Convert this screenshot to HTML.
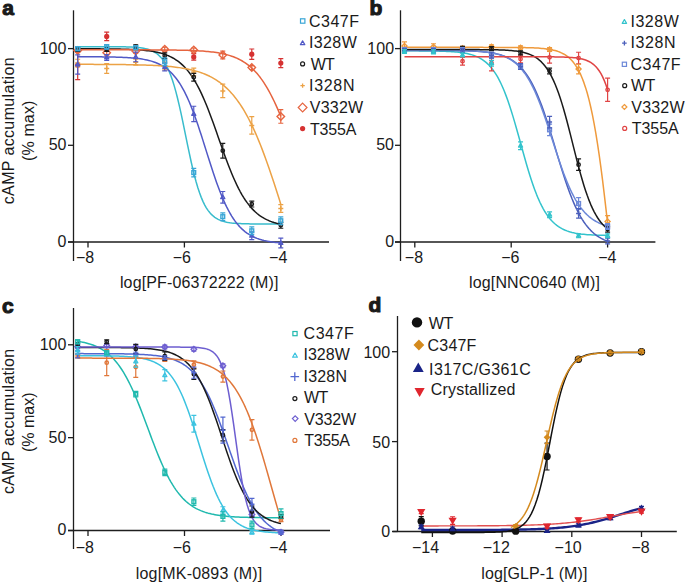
<!DOCTYPE html><html><head><meta charset="utf-8"><style>html,body{margin:0;padding:0;background:#fff;overflow:hidden}svg{display:block}</style></head><body><svg width="685" height="583" viewBox="0 0 685 583" style="font-family:'Liberation Sans',sans-serif">
<rect width="685" height="583" fill="white"/>
<path d="M73.5,10.3V261" stroke="#1e1e1e" stroke-width="1.3" fill="none"/>
<path d="M68,242H329" stroke="#1e1e1e" stroke-width="1.3" fill="none"/>
<path d="M68.0,48.60H73.5" stroke="#1e1e1e" stroke-width="1.3"/>
<text x="39.73" y="53.61" font-size="16" fill="#1a1a1a">100</text>
<path d="M68.0,145.30H73.5" stroke="#1e1e1e" stroke-width="1.3"/>
<text x="48.63" y="150.31" font-size="16" fill="#1a1a1a">50</text>
<path d="M68.0,242.00H73.5" stroke="#1e1e1e" stroke-width="1.3"/>
<text x="57.53" y="247.01" font-size="16" fill="#1a1a1a">0</text>
<path d="M88.00,242V247.5" stroke="#1e1e1e" stroke-width="1.3"/>
<text x="85.15" y="263" font-size="16" text-anchor="middle" font-weight="normal" fill="#1a1a1a" >−8</text>
<path d="M184.40,242V247.5" stroke="#1e1e1e" stroke-width="1.3"/>
<text x="181.75" y="263" font-size="16" text-anchor="middle" font-weight="normal" fill="#1a1a1a" >−6</text>
<path d="M280.80,242V247.5" stroke="#1e1e1e" stroke-width="1.3"/>
<text x="278.20" y="263" font-size="16" text-anchor="middle" font-weight="normal" fill="#1a1a1a" >−4</text>
<polyline points="77.69,46.64 79.38,46.64 81.07,46.64 82.76,46.64 84.46,46.64 86.15,46.64 87.84,46.64 89.53,46.64 91.23,46.64 92.92,46.64 94.61,46.64 96.30,46.64 98.00,46.65 99.69,46.65 101.38,46.65 103.07,46.65 104.77,46.66 106.46,46.66 108.15,46.67 109.85,46.68 111.54,46.68 113.23,46.69 114.92,46.71 116.62,46.72 118.31,46.74 120.00,46.76 121.69,46.78 123.39,46.81 125.08,46.85 126.77,46.90 128.46,46.95 130.16,47.02 131.85,47.09 133.54,47.19 135.23,47.30 136.93,47.44 138.62,47.60 140.31,47.80 142.00,48.04 143.70,48.33 145.39,48.67 147.08,49.09 148.78,49.58 150.47,50.18 152.16,50.89 153.85,51.75 155.55,52.76 157.24,53.98 158.93,55.42 160.62,57.12 162.32,59.13 164.01,61.49 165.70,64.25 167.39,67.46 169.09,71.16 170.78,75.40 172.47,80.20 174.16,85.61 175.86,91.61 177.55,98.19 179.24,105.30 180.94,112.88 182.63,120.83 184.32,129.03 186.01,137.33 187.71,145.60 189.40,153.69 191.09,161.48 192.78,168.84 194.48,175.71 196.17,182.01 197.86,187.73 199.55,192.84 201.25,197.37 202.94,201.34 204.63,204.80 206.32,207.79 208.02,210.35 209.71,212.53 211.40,214.39 213.10,215.96 214.79,217.29 216.48,218.40 218.17,219.34 219.87,220.12 221.56,220.77 223.25,221.32 224.94,221.78 226.64,222.15 228.33,222.47 230.02,222.73 231.71,222.95 233.41,223.13 235.10,223.28 236.79,223.41 238.48,223.51 240.18,223.60 241.87,223.67 243.56,223.73 245.25,223.78 246.95,223.82 248.64,223.85 250.33,223.88 252.03,223.90 253.72,223.92 255.41,223.94 257.10,223.95 258.80,223.96 260.49,223.97 262.18,223.98 263.87,223.99 265.57,223.99 267.26,224.00 268.95,224.00 270.64,224.00 272.34,224.01 274.03,224.01 275.72,224.01 277.41,224.01 279.11,224.01 280.80,224.01" fill="none" stroke="#38bccc" stroke-width="1.5" stroke-linejoin="round"/>
<polyline points="77.69,56.75 79.38,56.75 81.07,56.76 82.76,56.76 84.46,56.77 86.15,56.77 87.84,56.78 89.53,56.79 91.23,56.80 92.92,56.80 94.61,56.81 96.30,56.83 98.00,56.84 99.69,56.85 101.38,56.87 103.07,56.89 104.77,56.91 106.46,56.93 108.15,56.96 109.85,56.99 111.54,57.02 113.23,57.06 114.92,57.10 116.62,57.15 118.31,57.20 120.00,57.26 121.69,57.32 123.39,57.39 125.08,57.48 126.77,57.57 128.46,57.67 130.16,57.79 131.85,57.92 133.54,58.06 135.23,58.22 136.93,58.40 138.62,58.61 140.31,58.84 142.00,59.09 143.70,59.38 145.39,59.69 147.08,60.05 148.78,60.45 150.47,60.89 152.16,61.39 153.85,61.94 155.55,62.56 157.24,63.25 158.93,64.01 160.62,64.86 162.32,65.81 164.01,66.86 165.70,68.02 167.39,69.31 169.09,70.73 170.78,72.29 172.47,74.02 174.16,75.91 175.86,77.98 177.55,80.25 179.24,82.72 180.94,85.41 182.63,88.31 184.32,91.45 186.01,94.83 187.71,98.44 189.40,102.29 191.09,106.37 192.78,110.68 194.48,115.21 196.17,119.93 197.86,124.84 199.55,129.90 201.25,135.09 202.94,140.38 204.63,145.73 206.32,151.11 208.02,156.49 209.71,161.83 211.40,167.10 213.10,172.25 214.79,177.27 216.48,182.13 218.17,186.80 219.87,191.27 221.56,195.52 223.25,199.54 224.94,203.32 226.64,206.87 228.33,210.18 230.02,213.25 231.71,216.10 233.41,218.72 235.10,221.13 236.79,223.35 238.48,225.37 240.18,227.21 241.87,228.89 243.56,230.42 245.25,231.80 246.95,233.05 248.64,234.18 250.33,235.20 252.03,236.12 253.72,236.94 255.41,237.69 257.10,238.35 258.80,238.95 260.49,239.49 262.18,239.97 263.87,240.40 265.57,240.79 267.26,241.13 268.95,241.44 270.64,241.72 272.34,241.97 274.03,242.19 275.72,242.38 277.41,242.56 279.11,242.72 280.80,242.86" fill="none" stroke="#5159c6" stroke-width="1.5" stroke-linejoin="round"/>
<polyline points="77.69,48.80 79.38,48.80 81.07,48.81 82.76,48.81 84.46,48.81 86.15,48.82 87.84,48.82 89.53,48.83 91.23,48.83 92.92,48.84 94.61,48.84 96.30,48.85 98.00,48.86 99.69,48.87 101.38,48.88 103.07,48.89 104.77,48.90 106.46,48.92 108.15,48.93 109.85,48.95 111.54,48.97 113.23,48.99 114.92,49.02 116.62,49.04 118.31,49.08 120.00,49.11 121.69,49.15 123.39,49.19 125.08,49.24 126.77,49.29 128.46,49.35 130.16,49.41 131.85,49.48 133.54,49.56 135.23,49.65 136.93,49.75 138.62,49.86 140.31,49.98 142.00,50.12 143.70,50.27 145.39,50.44 147.08,50.63 148.78,50.83 150.47,51.06 152.16,51.32 153.85,51.61 155.55,51.92 157.24,52.28 158.93,52.67 160.62,53.10 162.32,53.58 164.01,54.11 165.70,54.70 167.39,55.35 169.09,56.06 170.78,56.86 172.47,57.73 174.16,58.69 175.86,59.76 177.55,60.92 179.24,62.20 180.94,63.61 182.63,65.14 184.32,66.82 186.01,68.65 187.71,70.63 189.40,72.79 191.09,75.13 192.78,77.64 194.48,80.35 196.17,83.26 197.86,86.36 199.55,89.67 201.25,93.17 202.94,96.87 204.63,100.76 206.32,104.83 208.02,109.07 209.71,113.45 211.40,117.97 213.10,122.60 214.79,127.32 216.48,132.11 218.17,136.92 219.87,141.75 221.56,146.55 223.25,151.31 224.94,155.99 226.64,160.57 228.33,165.03 230.02,169.35 231.71,173.51 233.41,177.49 235.10,181.29 236.79,184.90 238.48,188.31 240.18,191.52 241.87,194.54 243.56,197.35 245.25,199.97 246.95,202.40 248.64,204.65 250.33,206.73 252.03,208.64 253.72,210.39 255.41,212.00 257.10,213.47 258.80,214.82 260.49,216.05 262.18,217.16 263.87,218.18 265.57,219.10 267.26,219.93 268.95,220.69 270.64,221.37 272.34,221.99 274.03,222.55 275.72,223.06 277.41,223.52 279.11,223.93 280.80,224.30" fill="none" stroke="#1a1a1a" stroke-width="1.5" stroke-linejoin="round"/>
<polyline points="77.69,64.33 79.38,64.34 81.07,64.34 82.76,64.34 84.46,64.35 86.15,64.35 87.84,64.36 89.53,64.36 91.23,64.37 92.92,64.37 94.61,64.38 96.30,64.39 98.00,64.39 99.69,64.40 101.38,64.41 103.07,64.42 104.77,64.43 106.46,64.44 108.15,64.45 109.85,64.46 111.54,64.47 113.23,64.49 114.92,64.50 116.62,64.52 118.31,64.54 120.00,64.55 121.69,64.57 123.39,64.60 125.08,64.62 126.77,64.64 128.46,64.67 130.16,64.70 131.85,64.73 133.54,64.76 135.23,64.80 136.93,64.84 138.62,64.88 140.31,64.92 142.00,64.97 143.70,65.02 145.39,65.07 147.08,65.13 148.78,65.20 150.47,65.27 152.16,65.34 153.85,65.42 155.55,65.50 157.24,65.59 158.93,65.69 160.62,65.80 162.32,65.91 164.01,66.03 165.70,66.16 167.39,66.30 169.09,66.45 170.78,66.62 172.47,66.79 174.16,66.98 175.86,67.18 177.55,67.39 179.24,67.63 180.94,67.88 182.63,68.14 184.32,68.43 186.01,68.74 187.71,69.07 189.40,69.42 191.09,69.80 192.78,70.21 194.48,70.65 196.17,71.12 197.86,71.62 199.55,72.16 201.25,72.74 202.94,73.36 204.63,74.02 206.32,74.73 208.02,75.49 209.71,76.30 211.40,77.17 213.10,78.10 214.79,79.09 216.48,80.14 218.17,81.27 219.87,82.48 221.56,83.76 223.25,85.13 224.94,86.58 226.64,88.13 228.33,89.77 230.02,91.52 231.71,93.38 233.41,95.34 235.10,97.42 236.79,99.63 238.48,101.96 240.18,104.41 241.87,107.00 243.56,109.73 245.25,112.60 246.95,115.62 248.64,118.77 250.33,122.08 252.03,125.54 253.72,129.15 255.41,132.90 257.10,136.81 258.80,140.86 260.49,145.06 262.18,149.39 263.87,153.86 265.57,158.46 267.26,163.18 268.95,168.02 270.64,172.95 272.34,177.99 274.03,183.11 275.72,188.29 277.41,193.54 279.11,198.84 280.80,204.16" fill="none" stroke="#eca246" stroke-width="1.5" stroke-linejoin="round"/>
<polyline points="77.69,49.81 79.38,49.81 81.07,49.81 82.76,49.81 84.46,49.81 86.15,49.81 87.84,49.81 89.53,49.81 91.23,49.81 92.92,49.81 94.61,49.81 96.30,49.81 98.00,49.81 99.69,49.81 101.38,49.81 103.07,49.81 104.77,49.81 106.46,49.81 108.15,49.82 109.85,49.82 111.54,49.82 113.23,49.82 114.92,49.82 116.62,49.82 118.31,49.82 120.00,49.82 121.69,49.82 123.39,49.82 125.08,49.83 126.77,49.83 128.46,49.83 130.16,49.83 131.85,49.83 133.54,49.84 135.23,49.84 136.93,49.84 138.62,49.85 140.31,49.85 142.00,49.85 143.70,49.86 145.39,49.86 147.08,49.87 148.78,49.87 150.47,49.88 152.16,49.89 153.85,49.89 155.55,49.90 157.24,49.91 158.93,49.92 160.62,49.93 162.32,49.95 164.01,49.96 165.70,49.97 167.39,49.99 169.09,50.01 170.78,50.03 172.47,50.05 174.16,50.07 175.86,50.10 177.55,50.13 179.24,50.16 180.94,50.20 182.63,50.23 184.32,50.28 186.01,50.32 187.71,50.37 189.40,50.43 191.09,50.49 192.78,50.56 194.48,50.63 196.17,50.71 197.86,50.80 199.55,50.90 201.25,51.00 202.94,51.12 204.63,51.25 206.32,51.39 208.02,51.55 209.71,51.72 211.40,51.91 213.10,52.11 214.79,52.34 216.48,52.58 218.17,52.85 219.87,53.15 221.56,53.47 223.25,53.83 224.94,54.22 226.64,54.64 228.33,55.11 230.02,55.62 231.71,56.18 233.41,56.78 235.10,57.45 236.79,58.17 238.48,58.96 240.18,59.82 241.87,60.75 243.56,61.77 245.25,62.88 246.95,64.07 248.64,65.37 250.33,66.78 252.03,68.30 253.72,69.94 255.41,71.70 257.10,73.60 258.80,75.64 260.49,77.83 262.18,80.16 263.87,82.66 265.57,85.31 267.26,88.13 268.95,91.11 270.64,94.25 272.34,97.56 274.03,101.03 275.72,104.65 277.41,108.43 279.11,112.34 280.80,116.39" fill="none" stroke="#e6643f" stroke-width="1.5" stroke-linejoin="round"/>
<path d="M77.69,50.53V79.54M75.19,50.53H80.19M75.19,79.54H80.19" stroke="#d63232" stroke-width="1.2" fill="none"/>
<circle cx="77.69" cy="65.04" r="2.60" fill="#d63232"/>
<path d="M106.70,32.16V40.67M104.20,32.16H109.20M104.20,40.67H109.20" stroke="#d63232" stroke-width="1.2" fill="none"/>
<circle cx="106.70" cy="36.42" r="2.60" fill="#d63232"/>
<path d="M193.75,53.63V60.20M191.25,53.63H196.25M191.25,60.20H196.25" stroke="#d63232" stroke-width="1.2" fill="none"/>
<circle cx="193.75" cy="56.92" r="2.60" fill="#d63232"/>
<path d="M251.78,48.99V59.43M249.28,48.99H254.28M249.28,59.43H254.28" stroke="#d63232" stroke-width="1.2" fill="none"/>
<circle cx="251.78" cy="54.21" r="2.60" fill="#d63232"/>
<path d="M280.80,58.66V67.55M278.30,58.66H283.30M278.30,67.55H283.30" stroke="#d63232" stroke-width="1.2" fill="none"/>
<circle cx="280.80" cy="63.11" r="2.60" fill="#d63232"/>
<path d="M77.69,48.60V52.47M75.19,48.60H80.19M75.19,52.47H80.19" stroke="#e6643f" stroke-width="1.2" fill="none"/>
<polygon points="77.69,46.78 81.44,50.53 77.69,54.28 73.94,50.53" fill="none" stroke="#e6643f" stroke-width="1.4"/>
<path d="M106.70,50.92V54.79M104.20,50.92H109.20M104.20,54.79H109.20" stroke="#e6643f" stroke-width="1.2" fill="none"/>
<polygon points="106.70,49.10 110.45,52.85 106.70,56.60 102.95,52.85" fill="none" stroke="#e6643f" stroke-width="1.4"/>
<path d="M135.72,49.18V53.05M133.22,49.18H138.22M133.22,53.05H138.22" stroke="#e6643f" stroke-width="1.2" fill="none"/>
<polygon points="135.72,47.36 139.47,51.11 135.72,54.86 131.97,51.11" fill="none" stroke="#e6643f" stroke-width="1.4"/>
<path d="M164.73,47.25V51.11M162.23,47.25H167.23M162.23,51.11H167.23" stroke="#e6643f" stroke-width="1.2" fill="none"/>
<polygon points="164.73,45.43 168.48,49.18 164.73,52.93 160.98,49.18" fill="none" stroke="#e6643f" stroke-width="1.4"/>
<path d="M193.75,48.02V51.89M191.25,48.02H196.25M191.25,51.89H196.25" stroke="#e6643f" stroke-width="1.2" fill="none"/>
<polygon points="193.75,46.20 197.50,49.95 193.75,53.70 190.00,49.95" fill="none" stroke="#e6643f" stroke-width="1.4"/>
<path d="M222.77,51.11V58.85M220.27,51.11H225.27M220.27,58.85H225.27" stroke="#e6643f" stroke-width="1.2" fill="none"/>
<polygon points="222.77,51.23 226.52,54.98 222.77,58.73 219.02,54.98" fill="none" stroke="#e6643f" stroke-width="1.4"/>
<path d="M251.78,65.62V69.49M249.28,65.62H254.28M249.28,69.49H254.28" stroke="#e6643f" stroke-width="1.2" fill="none"/>
<polygon points="251.78,63.80 255.53,67.55 251.78,71.30 248.03,67.55" fill="none" stroke="#e6643f" stroke-width="1.4"/>
<path d="M280.80,109.71V123.25M278.30,109.71H283.30M278.30,123.25H283.30" stroke="#e6643f" stroke-width="1.2" fill="none"/>
<polygon points="280.80,112.73 284.55,116.48 280.80,120.23 277.05,116.48" fill="none" stroke="#e6643f" stroke-width="1.4"/>
<path d="M77.69,59.24V66.97M75.19,59.24H80.19M75.19,66.97H80.19" stroke="#eca246" stroke-width="1.2" fill="none"/>
<path d="M75.19,63.11H80.19M77.69,60.61V65.61" stroke="#eca246" stroke-width="1.5" fill="none"/>
<path d="M106.70,63.69V73.36M104.20,63.69H109.20M104.20,73.36H109.20" stroke="#eca246" stroke-width="1.2" fill="none"/>
<path d="M104.20,68.52H109.20M106.70,66.02V71.02" stroke="#eca246" stroke-width="1.5" fill="none"/>
<path d="M135.72,59.24V65.04M133.22,59.24H138.22M133.22,65.04H138.22" stroke="#eca246" stroke-width="1.2" fill="none"/>
<path d="M133.22,62.14H138.22M135.72,59.64V64.64" stroke="#eca246" stroke-width="1.5" fill="none"/>
<path d="M164.73,62.14V69.87M162.23,62.14H167.23M162.23,69.87H167.23" stroke="#eca246" stroke-width="1.2" fill="none"/>
<path d="M162.23,66.01H167.23M164.73,63.51V68.51" stroke="#eca246" stroke-width="1.5" fill="none"/>
<path d="M193.75,68.13V75.87M191.25,68.13H196.25M191.25,75.87H196.25" stroke="#eca246" stroke-width="1.2" fill="none"/>
<path d="M191.25,72.00H196.25M193.75,69.50V74.50" stroke="#eca246" stroke-width="1.5" fill="none"/>
<path d="M222.77,84.19V97.72M220.27,84.19H225.27M220.27,97.72H225.27" stroke="#eca246" stroke-width="1.2" fill="none"/>
<path d="M220.27,90.95H225.27M222.77,88.45V93.45" stroke="#eca246" stroke-width="1.5" fill="none"/>
<path d="M251.78,116.68V134.08M249.28,116.68H254.28M249.28,134.08H254.28" stroke="#eca246" stroke-width="1.2" fill="none"/>
<path d="M249.28,125.38H254.28M251.78,122.88V127.88" stroke="#eca246" stroke-width="1.5" fill="none"/>
<path d="M280.80,204.67V212.41M278.30,204.67H283.30M278.30,212.41H283.30" stroke="#eca246" stroke-width="1.2" fill="none"/>
<path d="M278.30,208.54H283.30M280.80,206.04V211.04" stroke="#eca246" stroke-width="1.5" fill="none"/>
<path d="M77.69,47.63V51.50M75.19,47.63H80.19M75.19,51.50H80.19" stroke="#1a1a1a" stroke-width="1.2" fill="none"/>
<circle cx="77.69" cy="49.57" r="1.70" fill="none" stroke="#1a1a1a" stroke-width="1.4"/>
<path d="M106.70,47.63V51.50M104.20,47.63H109.20M104.20,51.50H109.20" stroke="#1a1a1a" stroke-width="1.2" fill="none"/>
<circle cx="106.70" cy="49.57" r="1.70" fill="none" stroke="#1a1a1a" stroke-width="1.4"/>
<path d="M135.72,44.73V48.60M133.22,44.73H138.22M133.22,48.60H138.22" stroke="#1a1a1a" stroke-width="1.2" fill="none"/>
<circle cx="135.72" cy="46.67" r="1.70" fill="none" stroke="#1a1a1a" stroke-width="1.4"/>
<path d="M164.73,52.85V58.66M162.23,52.85H167.23M162.23,58.66H167.23" stroke="#1a1a1a" stroke-width="1.2" fill="none"/>
<circle cx="164.73" cy="55.76" r="1.70" fill="none" stroke="#1a1a1a" stroke-width="1.4"/>
<path d="M193.75,73.36V81.09M191.25,73.36H196.25M191.25,81.09H196.25" stroke="#1a1a1a" stroke-width="1.2" fill="none"/>
<circle cx="193.75" cy="77.22" r="1.70" fill="none" stroke="#1a1a1a" stroke-width="1.4"/>
<path d="M222.77,143.37V158.06M220.27,143.37H225.27M220.27,158.06H225.27" stroke="#1a1a1a" stroke-width="1.2" fill="none"/>
<circle cx="222.77" cy="150.72" r="1.70" fill="none" stroke="#1a1a1a" stroke-width="1.4"/>
<path d="M251.78,201.19V206.99M249.28,201.19H254.28M249.28,206.99H254.28" stroke="#1a1a1a" stroke-width="1.2" fill="none"/>
<circle cx="251.78" cy="204.09" r="1.70" fill="none" stroke="#1a1a1a" stroke-width="1.4"/>
<path d="M280.80,222.47V228.27M278.30,222.47H283.30M278.30,228.27H283.30" stroke="#1a1a1a" stroke-width="1.2" fill="none"/>
<circle cx="280.80" cy="225.37" r="1.70" fill="none" stroke="#1a1a1a" stroke-width="1.4"/>
<path d="M77.69,54.79V74.13M75.19,54.79H80.19M75.19,74.13H80.19" stroke="#5159c6" stroke-width="1.2" fill="none"/>
<polygon points="77.69,62.30 79.69,65.78 75.69,65.78" fill="none" stroke="#5159c6" stroke-width="1.4" stroke-linejoin="round"/>
<path d="M106.70,54.60V60.40M104.20,54.60H109.20M104.20,60.40H109.20" stroke="#5159c6" stroke-width="1.2" fill="none"/>
<polygon points="106.70,55.34 108.70,58.82 104.70,58.82" fill="none" stroke="#5159c6" stroke-width="1.4" stroke-linejoin="round"/>
<path d="M135.72,52.08V61.75M133.22,52.08H138.22M133.22,61.75H138.22" stroke="#5159c6" stroke-width="1.2" fill="none"/>
<polygon points="135.72,54.76 137.72,58.24 133.72,58.24" fill="none" stroke="#5159c6" stroke-width="1.4" stroke-linejoin="round"/>
<path d="M164.73,63.11V70.84M162.23,63.11H167.23M162.23,70.84H167.23" stroke="#5159c6" stroke-width="1.2" fill="none"/>
<polygon points="164.73,64.82 166.73,68.30 162.73,68.30" fill="none" stroke="#5159c6" stroke-width="1.4" stroke-linejoin="round"/>
<path d="M193.75,106.23V121.71M191.25,106.23H196.25M191.25,121.71H196.25" stroke="#5159c6" stroke-width="1.2" fill="none"/>
<polygon points="193.75,111.81 195.75,115.29 191.75,115.29" fill="none" stroke="#5159c6" stroke-width="1.4" stroke-linejoin="round"/>
<path d="M222.77,191.52V203.13M220.27,191.52H225.27M220.27,203.13H225.27" stroke="#5159c6" stroke-width="1.2" fill="none"/>
<polygon points="222.77,195.17 224.77,198.65 220.77,198.65" fill="none" stroke="#5159c6" stroke-width="1.4" stroke-linejoin="round"/>
<path d="M251.78,231.94V239.68M249.28,231.94H254.28M249.28,239.68H254.28" stroke="#5159c6" stroke-width="1.2" fill="none"/>
<polygon points="251.78,233.65 253.78,237.13 249.78,237.13" fill="none" stroke="#5159c6" stroke-width="1.4" stroke-linejoin="round"/>
<path d="M280.80,238.13V247.80M278.30,238.13H283.30M278.30,247.80H283.30" stroke="#5159c6" stroke-width="1.2" fill="none"/>
<polygon points="280.80,240.81 282.80,244.29 278.80,244.29" fill="none" stroke="#5159c6" stroke-width="1.4" stroke-linejoin="round"/>
<path d="M77.69,46.67V50.53M75.19,46.67H80.19M75.19,50.53H80.19" stroke="#3aa6d6" stroke-width="1.2" fill="none"/>
<rect x="75.79" y="46.70" width="3.8" height="3.8" fill="none" stroke="#3aa6d6" stroke-width="1.4"/>
<path d="M106.70,44.54V49.18M104.20,44.54H109.20M104.20,49.18H109.20" stroke="#3aa6d6" stroke-width="1.2" fill="none"/>
<rect x="104.80" y="44.96" width="3.8" height="3.8" fill="none" stroke="#3aa6d6" stroke-width="1.4"/>
<path d="M135.72,45.70V49.57M133.22,45.70H138.22M133.22,49.57H138.22" stroke="#3aa6d6" stroke-width="1.2" fill="none"/>
<rect x="133.82" y="45.73" width="3.8" height="3.8" fill="none" stroke="#3aa6d6" stroke-width="1.4"/>
<path d="M164.73,57.88V65.62M162.23,57.88H167.23M162.23,65.62H167.23" stroke="#3aa6d6" stroke-width="1.2" fill="none"/>
<rect x="162.83" y="59.85" width="3.8" height="3.8" fill="none" stroke="#3aa6d6" stroke-width="1.4"/>
<path d="M193.75,168.31V176.82M191.25,168.31H196.25M191.25,176.82H196.25" stroke="#3aa6d6" stroke-width="1.2" fill="none"/>
<rect x="191.85" y="170.67" width="3.8" height="3.8" fill="none" stroke="#3aa6d6" stroke-width="1.4"/>
<path d="M222.77,212.80V220.53M220.27,212.80H225.27M220.27,220.53H225.27" stroke="#3aa6d6" stroke-width="1.2" fill="none"/>
<rect x="220.87" y="214.76" width="3.8" height="3.8" fill="none" stroke="#3aa6d6" stroke-width="1.4"/>
<path d="M251.78,226.91V234.65M249.28,226.91H254.28M249.28,234.65H254.28" stroke="#3aa6d6" stroke-width="1.2" fill="none"/>
<rect x="249.88" y="228.88" width="3.8" height="3.8" fill="none" stroke="#3aa6d6" stroke-width="1.4"/>
<path d="M280.80,216.86V224.59M278.30,216.86H283.30M278.30,224.59H283.30" stroke="#3aa6d6" stroke-width="1.2" fill="none"/>
<rect x="278.90" y="218.83" width="3.8" height="3.8" fill="none" stroke="#3aa6d6" stroke-width="1.4"/>
<rect x="300.50" y="18.80" width="4.4" height="4.4" fill="none" stroke="#3aa6d6" stroke-width="1.2"/>
<text x="309.09" y="26.56" font-size="16" fill="#1a1a1a" letter-spacing="0.457">C347F</text>
<polygon points="302.60,40.83 304.80,44.65 300.40,44.65" fill="none" stroke="#5159c6" stroke-width="1.2" stroke-linejoin="round"/>
<text x="308.92" y="48.21" font-size="16" fill="#1a1a1a" letter-spacing="0.397">I328W</text>
<circle cx="302.60" cy="63.90" r="2.00" fill="none" stroke="#1a1a1a" stroke-width="1.2"/>
<text x="310.83" y="69.60" font-size="16" fill="#1a1a1a" letter-spacing="-0.837">WT</text>
<path d="M300.40,85.60H304.80M302.60,83.40V87.80" stroke="#eca246" stroke-width="1.3" fill="none"/>
<text x="309.12" y="91.36" font-size="16" fill="#1a1a1a" letter-spacing="0.671">I328N</text>
<polygon points="302.60,103.10 307.00,107.50 302.60,111.90 298.20,107.50" fill="none" stroke="#e6643f" stroke-width="1.2"/>
<text x="309.83" y="112.81" font-size="16" fill="#1a1a1a" letter-spacing="0.214">V332W</text>
<circle cx="302.60" cy="128.60" r="2.60" fill="#d63232"/>
<text x="309.94" y="134.51" font-size="16" fill="#1a1a1a" letter-spacing="-0.138">T355A</text>
<path d="M400.5,10.3V261" stroke="#1e1e1e" stroke-width="1.3" fill="none"/>
<path d="M395,242H655.4" stroke="#1e1e1e" stroke-width="1.3" fill="none"/>
<path d="M395.0,48.60H400.5" stroke="#1e1e1e" stroke-width="1.3"/>
<text x="367.33" y="53.61" font-size="16" fill="#1a1a1a">100</text>
<path d="M395.0,145.30H400.5" stroke="#1e1e1e" stroke-width="1.3"/>
<text x="376.23" y="150.31" font-size="16" fill="#1a1a1a">50</text>
<path d="M395.0,242.00H400.5" stroke="#1e1e1e" stroke-width="1.3"/>
<text x="385.13" y="247.01" font-size="16" fill="#1a1a1a">0</text>
<path d="M414.80,242V247.5" stroke="#1e1e1e" stroke-width="1.3"/>
<text x="413.95" y="262.9" font-size="16" text-anchor="middle" font-weight="normal" fill="#1a1a1a" >−8</text>
<path d="M511.20,242V247.5" stroke="#1e1e1e" stroke-width="1.3"/>
<text x="510.35" y="262.9" font-size="16" text-anchor="middle" font-weight="normal" fill="#1a1a1a" >−6</text>
<path d="M607.60,242V247.5" stroke="#1e1e1e" stroke-width="1.3"/>
<text x="607.25" y="262.9" font-size="16" text-anchor="middle" font-weight="normal" fill="#1a1a1a" >−4</text>
<polyline points="404.49,50.84 406.18,50.84 407.87,50.84 409.56,50.85 411.26,50.85 412.95,50.85 414.64,50.86 416.33,50.87 418.03,50.87 419.72,50.88 421.41,50.89 423.10,50.90 424.80,50.92 426.49,50.93 428.18,50.95 429.87,50.97 431.57,50.99 433.26,51.01 434.95,51.04 436.65,51.07 438.34,51.11 440.03,51.15 441.72,51.20 443.42,51.25 445.11,51.31 446.80,51.38 448.49,51.47 450.19,51.56 451.88,51.66 453.57,51.78 455.26,51.92 456.96,52.07 458.65,52.25 460.34,52.45 462.03,52.68 463.73,52.94 465.42,53.24 467.11,53.58 468.80,53.96 470.50,54.40 472.19,54.90 473.88,55.46 475.58,56.10 477.27,56.83 478.96,57.65 480.65,58.57 482.35,59.62 484.04,60.80 485.73,62.13 487.42,63.62 489.12,65.29 490.81,67.17 492.50,69.25 494.19,71.57 495.89,74.14 497.58,76.98 499.27,80.10 500.96,83.51 502.66,87.23 504.35,91.27 506.04,95.61 507.74,100.26 509.43,105.20 511.12,110.43 512.81,115.90 514.51,121.59 516.20,127.46 517.89,133.46 519.58,139.55 521.28,145.67 522.97,151.77 524.66,157.80 526.35,163.70 528.05,169.43 529.74,174.95 531.43,180.22 533.12,185.23 534.82,189.94 536.51,194.34 538.20,198.43 539.90,202.22 541.59,205.69 543.28,208.87 544.97,211.76 546.67,214.39 548.36,216.75 550.05,218.89 551.74,220.80 553.44,222.51 555.13,224.04 556.82,225.40 558.51,226.60 560.21,227.68 561.90,228.63 563.59,229.47 565.28,230.21 566.98,230.87 568.67,231.45 570.36,231.96 572.05,232.40 573.75,232.80 575.44,233.15 577.13,233.45 578.83,233.72 580.52,233.96 582.21,234.16 583.90,234.34 585.60,234.50 587.29,234.64 588.98,234.77 590.67,234.87 592.37,234.97 594.06,235.05 595.75,235.12 597.44,235.19 599.14,235.24 600.83,235.29 602.52,235.33 604.21,235.37 605.91,235.40 607.60,235.43" fill="none" stroke="#33c3cc" stroke-width="1.5" stroke-linejoin="round"/>
<polyline points="404.49,50.38 406.18,50.38 407.87,50.38 409.56,50.38 411.26,50.38 412.95,50.39 414.64,50.39 416.33,50.39 418.03,50.39 419.72,50.39 421.41,50.39 423.10,50.40 424.80,50.40 426.49,50.40 428.18,50.41 429.87,50.41 431.57,50.42 433.26,50.42 434.95,50.43 436.65,50.43 438.34,50.44 440.03,50.45 441.72,50.46 443.42,50.47 445.11,50.48 446.80,50.49 448.49,50.51 450.19,50.53 451.88,50.54 453.57,50.56 455.26,50.59 456.96,50.61 458.65,50.64 460.34,50.68 462.03,50.71 463.73,50.75 465.42,50.80 467.11,50.85 468.80,50.91 470.50,50.98 472.19,51.05 473.88,51.13 475.58,51.22 477.27,51.33 478.96,51.44 480.65,51.57 482.35,51.72 484.04,51.88 485.73,52.06 487.42,52.27 489.12,52.50 490.81,52.75 492.50,53.04 494.19,53.36 495.89,53.72 497.58,54.12 499.27,54.57 500.96,55.07 502.66,55.63 504.35,56.25 506.04,56.94 507.74,57.72 509.43,58.58 511.12,59.53 512.81,60.59 514.51,61.77 516.20,63.07 517.89,64.51 519.58,66.09 521.28,67.84 522.97,69.76 524.66,71.87 526.35,74.18 528.05,76.70 529.74,79.44 531.43,82.41 533.12,85.62 534.82,89.07 536.51,92.78 538.20,96.74 539.90,100.94 541.59,105.38 543.28,110.06 544.97,114.95 546.67,120.04 548.36,125.30 550.05,130.71 551.74,136.23 553.44,141.83 555.13,147.47 556.82,153.13 558.51,158.75 560.21,164.30 561.90,169.75 563.59,175.07 565.28,180.23 566.98,185.20 568.67,189.96 570.36,194.49 572.05,198.79 573.75,202.84 575.44,206.64 577.13,210.19 578.83,213.49 580.52,216.55 582.21,219.37 583.90,221.97 585.60,224.36 587.29,226.54 588.98,228.53 590.67,230.34 592.37,231.99 594.06,233.48 595.75,234.84 597.44,236.06 599.14,237.16 600.83,238.15 602.52,239.05 604.21,239.85 605.91,240.57 607.60,241.22" fill="none" stroke="#4b5fbb" stroke-width="1.5" stroke-linejoin="round"/>
<polyline points="404.49,50.18 406.18,50.18 407.87,50.18 409.56,50.18 411.26,50.18 412.95,50.18 414.64,50.18 416.33,50.19 418.03,50.19 419.72,50.19 421.41,50.19 423.10,50.19 424.80,50.20 426.49,50.20 428.18,50.20 429.87,50.21 431.57,50.21 433.26,50.22 434.95,50.22 436.65,50.23 438.34,50.24 440.03,50.25 441.72,50.26 443.42,50.27 445.11,50.28 446.80,50.29 448.49,50.31 450.19,50.32 451.88,50.34 453.57,50.36 455.26,50.39 456.96,50.41 458.65,50.44 460.34,50.48 462.03,50.52 463.73,50.56 465.42,50.61 467.11,50.66 468.80,50.72 470.50,50.79 472.19,50.87 473.88,50.95 475.58,51.05 477.27,51.16 478.96,51.28 480.65,51.42 482.35,51.57 484.04,51.74 485.73,51.94 487.42,52.15 489.12,52.40 490.81,52.67 492.50,52.97 494.19,53.32 495.89,53.70 497.58,54.13 499.27,54.61 500.96,55.15 502.66,55.75 504.35,56.42 506.04,57.16 507.74,57.99 509.43,58.92 511.12,59.95 512.81,61.09 514.51,62.35 516.20,63.75 517.89,65.30 519.58,67.00 521.28,68.88 522.97,70.93 524.66,73.18 526.35,75.64 528.05,78.31 529.74,81.20 531.43,84.32 533.12,87.68 534.82,91.28 536.51,95.11 538.20,99.17 539.90,103.45 541.59,107.95 543.28,112.63 544.97,117.48 546.67,122.48 548.36,127.60 550.05,132.79 551.74,138.04 553.44,143.30 555.13,148.53 556.82,153.71 558.51,158.79 560.21,163.76 561.90,168.57 563.59,173.20 565.28,177.64 566.98,181.86 568.67,185.86 570.36,189.63 572.05,193.16 573.75,196.46 575.44,199.52 577.13,202.35 578.83,204.96 580.52,207.36 582.21,209.56 583.90,211.57 585.60,213.39 587.29,215.05 588.98,216.56 590.67,217.92 592.37,219.15 594.06,220.26 595.75,221.26 597.44,222.16 599.14,222.97 600.83,223.69 602.52,224.34 604.21,224.93 605.91,225.45 607.60,225.91" fill="none" stroke="#6c88d8" stroke-width="1.5" stroke-linejoin="round"/>
<polyline points="404.49,49.55 406.18,49.55 407.87,49.55 409.56,49.55 411.26,49.55 412.95,49.55 414.64,49.55 416.33,49.55 418.03,49.55 419.72,49.55 421.41,49.55 423.10,49.55 424.80,49.55 426.49,49.55 428.18,49.55 429.87,49.55 431.57,49.55 433.26,49.55 434.95,49.55 436.65,49.55 438.34,49.55 440.03,49.55 441.72,49.55 443.42,49.55 445.11,49.55 446.80,49.55 448.49,49.55 450.19,49.55 451.88,49.55 453.57,49.56 455.26,49.56 456.96,49.56 458.65,49.56 460.34,49.56 462.03,49.56 463.73,49.57 465.42,49.57 467.11,49.57 468.80,49.58 470.50,49.58 472.19,49.59 473.88,49.59 475.58,49.60 477.27,49.61 478.96,49.61 480.65,49.63 482.35,49.64 484.04,49.65 485.73,49.67 487.42,49.69 489.12,49.71 490.81,49.73 492.50,49.76 494.19,49.79 495.89,49.83 497.58,49.87 499.27,49.92 500.96,49.98 502.66,50.05 504.35,50.12 506.04,50.21 507.74,50.31 509.43,50.43 511.12,50.57 512.81,50.72 514.51,50.90 516.20,51.11 517.89,51.35 519.58,51.62 521.28,51.93 522.97,52.30 524.66,52.71 526.35,53.19 528.05,53.74 529.74,54.37 531.43,55.09 533.12,55.92 534.82,56.86 536.51,57.94 538.20,59.16 539.90,60.56 541.59,62.14 543.28,63.93 544.97,65.96 546.67,68.23 548.36,70.79 550.05,73.64 551.74,76.82 553.44,80.34 555.13,84.21 556.82,88.45 558.51,93.06 560.21,98.04 561.90,103.38 563.59,109.06 565.28,115.04 566.98,121.30 568.67,127.77 570.36,134.40 572.05,141.13 573.75,147.89 575.44,154.60 577.13,161.21 578.83,167.65 580.52,173.86 582.21,179.79 583.90,185.41 585.60,190.69 587.29,195.60 588.98,200.15 590.67,204.32 592.37,208.13 594.06,211.59 595.75,214.70 597.44,217.50 599.14,220.01 600.83,222.24 602.52,224.22 604.21,225.97 605.91,227.52 607.60,228.88" fill="none" stroke="#1a1a1a" stroke-width="1.5" stroke-linejoin="round"/>
<polyline points="404.49,47.37 406.18,47.37 407.87,47.37 409.56,47.37 411.26,47.37 412.95,47.37 414.64,47.37 416.33,47.37 418.03,47.37 419.72,47.37 421.41,47.37 423.10,47.37 424.80,47.37 426.49,47.37 428.18,47.37 429.87,47.37 431.57,47.37 433.26,47.37 434.95,47.37 436.65,47.37 438.34,47.37 440.03,47.37 441.72,47.37 443.42,47.37 445.11,47.37 446.80,47.37 448.49,47.37 450.19,47.37 451.88,47.37 453.57,47.37 455.26,47.37 456.96,47.37 458.65,47.37 460.34,47.37 462.03,47.37 463.73,47.37 465.42,47.37 467.11,47.37 468.80,47.37 470.50,47.37 472.19,47.37 473.88,47.37 475.58,47.37 477.27,47.37 478.96,47.37 480.65,47.37 482.35,47.37 484.04,47.38 485.73,47.38 487.42,47.38 489.12,47.38 490.81,47.38 492.50,47.38 494.19,47.39 495.89,47.39 497.58,47.39 499.27,47.39 500.96,47.40 502.66,47.40 504.35,47.41 506.04,47.42 507.74,47.42 509.43,47.43 511.12,47.44 512.81,47.45 514.51,47.47 516.20,47.48 517.89,47.50 519.58,47.52 521.28,47.54 522.97,47.57 524.66,47.60 526.35,47.64 528.05,47.68 529.74,47.73 531.43,47.79 533.12,47.86 534.82,47.93 536.51,48.02 538.20,48.12 539.90,48.24 541.59,48.38 543.28,48.54 544.97,48.72 546.67,48.93 548.36,49.17 550.05,49.45 551.74,49.78 553.44,50.15 555.13,50.58 556.82,51.08 558.51,51.66 560.21,52.32 561.90,53.08 563.59,53.97 565.28,54.98 566.98,56.15 568.67,57.49 570.36,59.03 572.05,60.80 573.75,62.83 575.44,65.15 577.13,67.81 578.83,70.83 580.52,74.28 582.21,78.20 583.90,82.64 585.60,87.65 587.29,93.30 588.98,99.63 590.67,106.71 592.37,114.57 594.06,123.28 595.75,132.85 597.44,143.31 599.14,154.67 600.83,166.90 602.52,179.97 604.21,193.82 605.91,208.36 607.60,223.48" fill="none" stroke="#ef9a3c" stroke-width="1.5" stroke-linejoin="round"/>
<polyline points="404.49,56.77 406.18,56.77 407.87,56.77 409.56,56.77 411.26,56.77 412.95,56.77 414.64,56.77 416.33,56.77 418.03,56.77 419.72,56.77 421.41,56.77 423.10,56.77 424.80,56.77 426.49,56.77 428.18,56.77 429.87,56.77 431.57,56.77 433.26,56.77 434.95,56.77 436.65,56.77 438.34,56.77 440.03,56.77 441.72,56.77 443.42,56.77 445.11,56.77 446.80,56.77 448.49,56.77 450.19,56.77 451.88,56.77 453.57,56.77 455.26,56.77 456.96,56.77 458.65,56.77 460.34,56.77 462.03,56.77 463.73,56.77 465.42,56.77 467.11,56.77 468.80,56.77 470.50,56.77 472.19,56.77 473.88,56.77 475.58,56.77 477.27,56.77 478.96,56.77 480.65,56.77 482.35,56.77 484.04,56.77 485.73,56.77 487.42,56.77 489.12,56.77 490.81,56.77 492.50,56.77 494.19,56.77 495.89,56.77 497.58,56.77 499.27,56.77 500.96,56.77 502.66,56.77 504.35,56.77 506.04,56.77 507.74,56.77 509.43,56.77 511.12,56.77 512.81,56.77 514.51,56.77 516.20,56.77 517.89,56.78 519.58,56.78 521.28,56.78 522.97,56.78 524.66,56.78 526.35,56.78 528.05,56.78 529.74,56.78 531.43,56.78 533.12,56.78 534.82,56.79 536.51,56.79 538.20,56.79 539.90,56.79 541.59,56.80 543.28,56.80 544.97,56.81 546.67,56.82 548.36,56.83 550.05,56.84 551.74,56.85 553.44,56.87 555.13,56.89 556.82,56.91 558.51,56.94 560.21,56.98 561.90,57.02 563.59,57.07 565.28,57.13 566.98,57.20 568.67,57.29 570.36,57.39 572.05,57.52 573.75,57.67 575.44,57.85 577.13,58.07 578.83,58.34 580.52,58.65 582.21,59.04 583.90,59.49 585.60,60.05 587.29,60.71 588.98,61.50 590.67,62.45 592.37,63.58 594.06,64.93 595.75,66.55 597.44,68.47 599.14,70.75 600.83,73.45 602.52,76.64 604.21,80.38 605.91,84.76 607.60,89.85" fill="none" stroke="#e04444" stroke-width="1.5" stroke-linejoin="round"/>
<path d="M462.52,57.30V65.04M460.02,57.30H465.02M460.02,65.04H465.02" stroke="#e04444" stroke-width="1.2" fill="none"/>
<circle cx="462.52" cy="61.17" r="1.70" fill="none" stroke="#e04444" stroke-width="1.4"/>
<path d="M491.53,55.37V70.84M489.03,55.37H494.03M489.03,70.84H494.03" stroke="#e04444" stroke-width="1.2" fill="none"/>
<circle cx="491.53" cy="63.11" r="1.70" fill="none" stroke="#e04444" stroke-width="1.4"/>
<path d="M520.55,55.18V62.91M518.05,55.18H523.05M518.05,62.91H523.05" stroke="#e04444" stroke-width="1.2" fill="none"/>
<circle cx="520.55" cy="59.04" r="1.70" fill="none" stroke="#e04444" stroke-width="1.4"/>
<path d="M549.57,51.50V63.11M547.07,51.50H552.07M547.07,63.11H552.07" stroke="#e04444" stroke-width="1.2" fill="none"/>
<circle cx="549.57" cy="57.30" r="1.70" fill="none" stroke="#e04444" stroke-width="1.4"/>
<path d="M578.58,52.27V63.88M576.08,52.27H581.08M576.08,63.88H581.08" stroke="#e04444" stroke-width="1.2" fill="none"/>
<circle cx="578.58" cy="58.08" r="1.70" fill="none" stroke="#e04444" stroke-width="1.4"/>
<path d="M607.60,78.19V101.40M605.10,78.19H610.10M605.10,101.40H610.10" stroke="#e04444" stroke-width="1.2" fill="none"/>
<circle cx="607.60" cy="89.79" r="1.70" fill="none" stroke="#e04444" stroke-width="1.4"/>
<path d="M404.49,41.83V50.34M401.99,41.83H406.99M401.99,50.34H406.99" stroke="#ef9a3c" stroke-width="1.2" fill="none"/>
<polygon points="404.49,43.59 406.99,46.09 404.49,48.59 401.99,46.09" fill="none" stroke="#ef9a3c" stroke-width="1.4"/>
<path d="M433.50,43.77V49.57M431.00,43.77H436.00M431.00,49.57H436.00" stroke="#ef9a3c" stroke-width="1.2" fill="none"/>
<polygon points="433.50,44.17 436.00,46.67 433.50,49.17 431.00,46.67" fill="none" stroke="#ef9a3c" stroke-width="1.4"/>
<path d="M462.52,46.28V50.15M460.02,46.28H465.02M460.02,50.15H465.02" stroke="#ef9a3c" stroke-width="1.2" fill="none"/>
<polygon points="462.52,45.71 465.02,48.21 462.52,50.71 460.02,48.21" fill="none" stroke="#ef9a3c" stroke-width="1.4"/>
<path d="M491.53,44.73V48.60M489.03,44.73H494.03M489.03,48.60H494.03" stroke="#ef9a3c" stroke-width="1.2" fill="none"/>
<polygon points="491.53,44.17 494.03,46.67 491.53,49.17 489.03,46.67" fill="none" stroke="#ef9a3c" stroke-width="1.4"/>
<path d="M520.55,45.89V49.76M518.05,45.89H523.05M518.05,49.76H523.05" stroke="#ef9a3c" stroke-width="1.2" fill="none"/>
<polygon points="520.55,45.33 523.05,47.83 520.55,50.33 518.05,47.83" fill="none" stroke="#ef9a3c" stroke-width="1.4"/>
<path d="M549.57,47.63V51.50M547.07,47.63H552.07M547.07,51.50H552.07" stroke="#ef9a3c" stroke-width="1.2" fill="none"/>
<polygon points="549.57,47.07 552.07,49.57 549.57,52.07 547.07,49.57" fill="none" stroke="#ef9a3c" stroke-width="1.4"/>
<path d="M578.58,64.27V73.94M576.08,64.27H581.08M576.08,73.94H581.08" stroke="#ef9a3c" stroke-width="1.2" fill="none"/>
<polygon points="578.58,66.60 581.08,69.10 578.58,71.60 576.08,69.10" fill="none" stroke="#ef9a3c" stroke-width="1.4"/>
<path d="M607.60,215.70V227.30M605.10,215.70H610.10M605.10,227.30H610.10" stroke="#ef9a3c" stroke-width="1.2" fill="none"/>
<polygon points="607.60,219.00 610.10,221.50 607.60,224.00 605.10,221.50" fill="none" stroke="#ef9a3c" stroke-width="1.4"/>
<path d="M404.49,47.63V51.50M401.99,47.63H406.99M401.99,51.50H406.99" stroke="#1a1a1a" stroke-width="1.2" fill="none"/>
<circle cx="404.49" cy="49.57" r="1.70" fill="none" stroke="#1a1a1a" stroke-width="1.4"/>
<path d="M433.50,47.63V51.50M431.00,47.63H436.00M431.00,51.50H436.00" stroke="#1a1a1a" stroke-width="1.2" fill="none"/>
<circle cx="433.50" cy="49.57" r="1.70" fill="none" stroke="#1a1a1a" stroke-width="1.4"/>
<path d="M462.52,46.28V50.15M460.02,46.28H465.02M460.02,50.15H465.02" stroke="#1a1a1a" stroke-width="1.2" fill="none"/>
<circle cx="462.52" cy="48.21" r="1.70" fill="none" stroke="#1a1a1a" stroke-width="1.4"/>
<path d="M491.53,46.67V50.53M489.03,46.67H494.03M489.03,50.53H494.03" stroke="#1a1a1a" stroke-width="1.2" fill="none"/>
<circle cx="491.53" cy="48.60" r="1.70" fill="none" stroke="#1a1a1a" stroke-width="1.4"/>
<path d="M520.55,50.92V54.79M518.05,50.92H523.05M518.05,54.79H523.05" stroke="#1a1a1a" stroke-width="1.2" fill="none"/>
<circle cx="520.55" cy="52.85" r="1.70" fill="none" stroke="#1a1a1a" stroke-width="1.4"/>
<path d="M549.57,68.13V73.94M547.07,68.13H552.07M547.07,73.94H552.07" stroke="#1a1a1a" stroke-width="1.2" fill="none"/>
<circle cx="549.57" cy="71.03" r="1.70" fill="none" stroke="#1a1a1a" stroke-width="1.4"/>
<path d="M578.58,158.84V170.44M576.08,158.84H581.08M576.08,170.44H581.08" stroke="#1a1a1a" stroke-width="1.2" fill="none"/>
<circle cx="578.58" cy="164.64" r="1.70" fill="none" stroke="#1a1a1a" stroke-width="1.4"/>
<path d="M607.60,226.33V232.14M605.10,226.33H610.10M605.10,232.14H610.10" stroke="#1a1a1a" stroke-width="1.2" fill="none"/>
<circle cx="607.60" cy="229.24" r="1.70" fill="none" stroke="#1a1a1a" stroke-width="1.4"/>
<path d="M404.49,47.63V51.50M401.99,47.63H406.99M401.99,51.50H406.99" stroke="#6c88d8" stroke-width="1.2" fill="none"/>
<rect x="402.59" y="47.67" width="3.8" height="3.8" fill="none" stroke="#6c88d8" stroke-width="1.4"/>
<path d="M433.50,47.63V51.50M431.00,47.63H436.00M431.00,51.50H436.00" stroke="#6c88d8" stroke-width="1.2" fill="none"/>
<rect x="431.60" y="47.67" width="3.8" height="3.8" fill="none" stroke="#6c88d8" stroke-width="1.4"/>
<path d="M462.52,47.63V51.50M460.02,47.63H465.02M460.02,51.50H465.02" stroke="#6c88d8" stroke-width="1.2" fill="none"/>
<rect x="460.62" y="47.67" width="3.8" height="3.8" fill="none" stroke="#6c88d8" stroke-width="1.4"/>
<path d="M491.53,52.27V58.08M489.03,52.27H494.03M489.03,58.08H494.03" stroke="#6c88d8" stroke-width="1.2" fill="none"/>
<rect x="489.63" y="53.28" width="3.8" height="3.8" fill="none" stroke="#6c88d8" stroke-width="1.4"/>
<path d="M520.55,63.69V69.49M518.05,63.69H523.05M518.05,69.49H523.05" stroke="#6c88d8" stroke-width="1.2" fill="none"/>
<rect x="518.65" y="64.69" width="3.8" height="3.8" fill="none" stroke="#6c88d8" stroke-width="1.4"/>
<path d="M549.57,124.03V135.63M547.07,124.03H552.07M547.07,135.63H552.07" stroke="#6c88d8" stroke-width="1.2" fill="none"/>
<rect x="547.67" y="127.93" width="3.8" height="3.8" fill="none" stroke="#6c88d8" stroke-width="1.4"/>
<path d="M578.58,197.71V209.32M576.08,197.71H581.08M576.08,209.32H581.08" stroke="#6c88d8" stroke-width="1.2" fill="none"/>
<rect x="576.68" y="201.61" width="3.8" height="3.8" fill="none" stroke="#6c88d8" stroke-width="1.4"/>
<path d="M607.60,223.63V229.43M605.10,223.63H610.10M605.10,229.43H610.10" stroke="#6c88d8" stroke-width="1.2" fill="none"/>
<rect x="605.70" y="224.63" width="3.8" height="3.8" fill="none" stroke="#6c88d8" stroke-width="1.4"/>
<path d="M404.49,48.60V52.47M401.99,48.60H406.99M401.99,52.47H406.99" stroke="#4b5fbb" stroke-width="1.2" fill="none"/>
<path d="M401.99,50.53H406.99M404.49,48.03V53.03" stroke="#4b5fbb" stroke-width="1.5" fill="none"/>
<path d="M433.50,48.60V52.47M431.00,48.60H436.00M431.00,52.47H436.00" stroke="#4b5fbb" stroke-width="1.2" fill="none"/>
<path d="M431.00,50.53H436.00M433.50,48.03V53.03" stroke="#4b5fbb" stroke-width="1.5" fill="none"/>
<path d="M462.52,48.60V52.47M460.02,48.60H465.02M460.02,52.47H465.02" stroke="#4b5fbb" stroke-width="1.2" fill="none"/>
<path d="M460.02,50.53H465.02M462.52,48.03V53.03" stroke="#4b5fbb" stroke-width="1.5" fill="none"/>
<path d="M491.53,52.27V58.08M489.03,52.27H494.03M489.03,58.08H494.03" stroke="#4b5fbb" stroke-width="1.2" fill="none"/>
<path d="M489.03,55.18H494.03M491.53,52.68V57.68" stroke="#4b5fbb" stroke-width="1.5" fill="none"/>
<path d="M520.55,63.69V69.49M518.05,63.69H523.05M518.05,69.49H523.05" stroke="#4b5fbb" stroke-width="1.2" fill="none"/>
<path d="M518.05,66.59H523.05M520.55,64.09V69.09" stroke="#4b5fbb" stroke-width="1.5" fill="none"/>
<path d="M549.57,116.29V127.89M547.07,116.29H552.07M547.07,127.89H552.07" stroke="#4b5fbb" stroke-width="1.2" fill="none"/>
<path d="M547.07,122.09H552.07M549.57,119.59V124.59" stroke="#4b5fbb" stroke-width="1.5" fill="none"/>
<path d="M578.58,208.54V218.21M576.08,208.54H581.08M576.08,218.21H581.08" stroke="#4b5fbb" stroke-width="1.2" fill="none"/>
<path d="M576.08,213.38H581.08M578.58,210.88V215.88" stroke="#4b5fbb" stroke-width="1.5" fill="none"/>
<path d="M607.60,238.13V243.93M605.10,238.13H610.10M605.10,243.93H610.10" stroke="#4b5fbb" stroke-width="1.2" fill="none"/>
<path d="M605.10,241.03H610.10M607.60,238.53V243.53" stroke="#4b5fbb" stroke-width="1.5" fill="none"/>
<path d="M404.49,49.57V53.44M401.99,49.57H406.99M401.99,53.44H406.99" stroke="#33c3cc" stroke-width="1.2" fill="none"/>
<polygon points="404.49,49.34 406.49,52.82 402.49,52.82" fill="none" stroke="#33c3cc" stroke-width="1.4" stroke-linejoin="round"/>
<path d="M433.50,49.95V53.82M431.00,49.95H436.00M431.00,53.82H436.00" stroke="#33c3cc" stroke-width="1.2" fill="none"/>
<polygon points="433.50,49.73 435.50,53.21 431.50,53.21" fill="none" stroke="#33c3cc" stroke-width="1.4" stroke-linejoin="round"/>
<path d="M462.52,53.05V56.92M460.02,53.05H465.02M460.02,56.92H465.02" stroke="#33c3cc" stroke-width="1.2" fill="none"/>
<polygon points="462.52,52.82 464.52,56.30 460.52,56.30" fill="none" stroke="#33c3cc" stroke-width="1.4" stroke-linejoin="round"/>
<path d="M491.53,60.40V66.20M489.03,60.40H494.03M489.03,66.20H494.03" stroke="#33c3cc" stroke-width="1.2" fill="none"/>
<polygon points="491.53,61.14 493.53,64.62 489.53,64.62" fill="none" stroke="#33c3cc" stroke-width="1.4" stroke-linejoin="round"/>
<path d="M520.55,141.82V149.55M518.05,141.82H523.05M518.05,149.55H523.05" stroke="#33c3cc" stroke-width="1.2" fill="none"/>
<polygon points="520.55,143.53 522.55,147.01 518.55,147.01" fill="none" stroke="#33c3cc" stroke-width="1.4" stroke-linejoin="round"/>
<path d="M549.57,211.83V217.63M547.07,211.83H552.07M547.07,217.63H552.07" stroke="#33c3cc" stroke-width="1.2" fill="none"/>
<polygon points="549.57,212.57 551.57,216.05 547.57,216.05" fill="none" stroke="#33c3cc" stroke-width="1.4" stroke-linejoin="round"/>
<path d="M578.58,233.88V237.75M576.08,233.88H581.08M576.08,237.75H581.08" stroke="#33c3cc" stroke-width="1.2" fill="none"/>
<polygon points="578.58,233.65 580.58,237.13 576.58,237.13" fill="none" stroke="#33c3cc" stroke-width="1.4" stroke-linejoin="round"/>
<path d="M607.60,233.88V237.75M605.10,233.88H610.10M605.10,237.75H610.10" stroke="#33c3cc" stroke-width="1.2" fill="none"/>
<polygon points="607.60,233.65 609.60,237.13 605.60,237.13" fill="none" stroke="#33c3cc" stroke-width="1.4" stroke-linejoin="round"/>
<polygon points="624.40,19.53 626.60,23.35 622.20,23.35" fill="none" stroke="#33c3cc" stroke-width="1.2" stroke-linejoin="round"/>
<text x="630.42" y="27.21" font-size="16" fill="#1a1a1a" letter-spacing="0.547">I328W</text>
<path d="M622.10,43.10H626.70M624.40,40.80V45.40" stroke="#4b5fbb" stroke-width="1.3" fill="none"/>
<text x="630.42" y="48.41" font-size="16" fill="#1a1a1a" letter-spacing="0.621">I328N</text>
<rect x="622.30" y="62.20" width="4.2" height="4.2" fill="none" stroke="#6c88d8" stroke-width="1.2"/>
<text x="630.59" y="69.86" font-size="16" fill="#1a1a1a" letter-spacing="0.482">C347F</text>
<circle cx="624.70" cy="85.70" r="2.00" fill="none" stroke="#1a1a1a" stroke-width="1.2"/>
<text x="630.93" y="91.25" font-size="16" fill="#1a1a1a" letter-spacing="-0.538">WT</text>
<polygon points="624.40,104.50 626.90,107.00 624.40,109.50 621.90,107.00" fill="none" stroke="#ef9a3c" stroke-width="1.2"/>
<text x="631.33" y="112.86" font-size="16" fill="#1a1a1a" letter-spacing="0.189">V332W</text>
<circle cx="624.70" cy="128.40" r="2.00" fill="none" stroke="#e04444" stroke-width="1.2"/>
<text x="631.64" y="133.86" font-size="16" fill="#1a1a1a" letter-spacing="-0.012">T355A</text>
<path d="M73.5,308V549" stroke="#1e1e1e" stroke-width="1.3" fill="none"/>
<path d="M68,530.5H330" stroke="#1e1e1e" stroke-width="1.3" fill="none"/>
<path d="M68.0,344.80H73.5" stroke="#1e1e1e" stroke-width="1.3"/>
<text x="39.63" y="349.71" font-size="16" fill="#1a1a1a">100</text>
<path d="M68.0,437.65H73.5" stroke="#1e1e1e" stroke-width="1.3"/>
<text x="48.53" y="442.56" font-size="16" fill="#1a1a1a">50</text>
<path d="M68.0,530.50H73.5" stroke="#1e1e1e" stroke-width="1.3"/>
<text x="57.43" y="535.41" font-size="16" fill="#1a1a1a">0</text>
<path d="M88.00,530.5V536.0" stroke="#1e1e1e" stroke-width="1.3"/>
<text x="84.90" y="552.6" font-size="16" text-anchor="middle" font-weight="normal" fill="#1a1a1a" >−8</text>
<path d="M184.50,530.5V536.0" stroke="#1e1e1e" stroke-width="1.3"/>
<text x="181.80" y="552.6" font-size="16" text-anchor="middle" font-weight="normal" fill="#1a1a1a" >−6</text>
<path d="M281.00,530.5V536.0" stroke="#1e1e1e" stroke-width="1.3"/>
<text x="278.40" y="552.6" font-size="16" text-anchor="middle" font-weight="normal" fill="#1a1a1a" >−4</text>
<polyline points="77.67,341.29 79.37,341.56 81.06,341.87 82.76,342.20 84.45,342.57 86.15,342.97 87.84,343.42 89.54,343.91 91.23,344.46 92.92,345.05 94.62,345.71 96.31,346.43 98.01,347.22 99.70,348.08 101.40,349.03 103.09,350.07 104.78,351.20 106.48,352.44 108.17,353.79 109.87,355.26 111.56,356.85 113.26,358.58 114.95,360.45 116.65,362.48 118.34,364.66 120.03,367.00 121.73,369.51 123.42,372.20 125.12,375.06 126.81,378.10 128.51,381.31 130.20,384.71 131.89,388.28 133.59,392.01 135.28,395.90 136.98,399.93 138.67,404.10 140.37,408.38 142.06,412.76 143.76,417.22 145.45,421.73 147.14,426.28 148.84,430.84 150.53,435.38 152.23,439.89 153.92,444.34 155.62,448.71 157.31,452.97 159.00,457.12 160.70,461.14 162.39,465.01 164.09,468.72 165.78,472.26 167.48,475.63 169.17,478.83 170.87,481.84 172.56,484.68 174.25,487.34 175.95,489.83 177.64,492.15 179.34,494.31 181.03,496.31 182.73,498.17 184.42,499.88 186.11,501.46 187.81,502.91 189.50,504.24 191.20,505.47 192.89,506.59 194.59,507.61 196.28,508.55 197.98,509.40 199.67,510.18 201.36,510.89 203.06,511.54 204.75,512.13 206.45,512.66 208.14,513.15 209.84,513.59 211.53,513.99 213.22,514.35 214.92,514.68 216.61,514.98 218.31,515.25 220.00,515.50 221.70,515.72 223.39,515.92 225.09,516.10 226.78,516.27 228.47,516.42 230.17,516.55 231.86,516.67 233.56,516.78 235.25,516.88 236.95,516.97 238.64,517.05 240.33,517.13 242.03,517.19 243.72,517.26 245.42,517.31 247.11,517.36 248.81,517.40 250.50,517.44 252.20,517.48 253.89,517.51 255.58,517.54 257.28,517.57 258.97,517.59 260.67,517.61 262.36,517.63 264.06,517.65 265.75,517.67 267.44,517.68 269.14,517.70 270.83,517.71 272.53,517.72 274.22,517.73 275.92,517.74 277.61,517.74 279.31,517.75 281.00,517.76" fill="none" stroke="#20b9ae" stroke-width="1.5" stroke-linejoin="round"/>
<polyline points="77.67,355.66 79.37,355.66 81.06,355.66 82.76,355.67 84.45,355.67 86.15,355.68 87.84,355.68 89.54,355.69 91.23,355.70 92.92,355.71 94.62,355.72 96.31,355.73 98.01,355.74 99.70,355.76 101.40,355.77 103.09,355.79 104.78,355.81 106.48,355.83 108.17,355.86 109.87,355.89 111.56,355.93 113.26,355.96 114.95,356.01 116.65,356.06 118.34,356.11 120.03,356.18 121.73,356.25 123.42,356.33 125.12,356.42 126.81,356.53 128.51,356.64 130.20,356.78 131.89,356.93 133.59,357.10 135.28,357.29 136.98,357.50 138.67,357.75 140.37,358.02 142.06,358.33 143.76,358.68 145.45,359.08 147.14,359.52 148.84,360.02 150.53,360.58 152.23,361.21 153.92,361.92 155.62,362.72 157.31,363.61 159.00,364.61 160.70,365.73 162.39,366.98 164.09,368.37 165.78,369.91 167.48,371.62 169.17,373.52 170.87,375.61 172.56,377.92 174.25,380.45 175.95,383.21 177.64,386.22 179.34,389.49 181.03,393.01 182.73,396.80 184.42,400.85 186.11,405.15 187.81,409.69 189.50,414.46 191.20,419.43 192.89,424.58 194.59,429.87 196.28,435.27 197.98,440.75 199.67,446.24 201.36,451.73 203.06,457.16 204.75,462.50 206.45,467.70 208.14,472.74 209.84,477.58 211.53,482.20 213.22,486.59 214.92,490.73 216.61,494.61 218.31,498.22 220.00,501.58 221.70,504.68 223.39,507.53 225.09,510.14 226.78,512.52 228.47,514.69 230.17,516.65 231.86,518.43 233.56,520.03 235.25,521.47 236.95,522.77 238.64,523.93 240.33,524.97 242.03,525.89 243.72,526.72 245.42,527.46 247.11,528.12 248.81,528.71 250.50,529.23 252.20,529.69 253.89,530.10 255.58,530.47 257.28,530.79 258.97,531.08 260.67,531.33 262.36,531.56 264.06,531.76 265.75,531.93 267.44,532.09 269.14,532.23 270.83,532.35 272.53,532.46 274.22,532.56 275.92,532.64 277.61,532.72 279.31,532.78 281.00,532.84" fill="none" stroke="#3cc3e0" stroke-width="1.5" stroke-linejoin="round"/>
<polyline points="77.67,353.62 79.37,353.62 81.06,353.62 82.76,353.62 84.45,353.63 86.15,353.63 87.84,353.63 89.54,353.64 91.23,353.64 92.92,353.64 94.62,353.65 96.31,353.65 98.01,353.66 99.70,353.66 101.40,353.67 103.09,353.68 104.78,353.69 106.48,353.70 108.17,353.71 109.87,353.72 111.56,353.73 113.26,353.75 114.95,353.76 116.65,353.78 118.34,353.80 120.03,353.82 121.73,353.85 123.42,353.87 125.12,353.90 126.81,353.94 128.51,353.97 130.20,354.02 131.89,354.06 133.59,354.11 135.28,354.17 136.98,354.23 138.67,354.30 140.37,354.38 142.06,354.47 143.76,354.56 145.45,354.67 147.14,354.79 148.84,354.92 150.53,355.06 152.23,355.22 153.92,355.40 155.62,355.60 157.31,355.82 159.00,356.06 160.70,356.33 162.39,356.63 164.09,356.96 165.78,357.33 167.48,357.74 169.17,358.18 170.87,358.68 172.56,359.23 174.25,359.83 175.95,360.50 177.64,361.24 179.34,362.05 181.03,362.94 182.73,363.92 184.42,365.00 186.11,366.18 187.81,367.48 189.50,368.89 191.20,370.44 192.89,372.13 194.59,373.96 196.28,375.95 197.98,378.11 199.67,380.44 201.36,382.96 203.06,385.66 204.75,388.55 206.45,391.64 208.14,394.93 209.84,398.42 211.53,402.10 213.22,405.97 214.92,410.02 216.61,414.24 218.31,418.62 220.00,423.14 221.70,427.78 223.39,432.52 225.09,437.33 226.78,442.19 228.47,447.07 230.17,451.95 231.86,456.79 233.56,461.58 235.25,466.28 236.95,470.88 238.64,475.35 240.33,479.67 242.03,483.84 243.72,487.82 245.42,491.63 247.11,495.24 248.81,498.65 250.50,501.87 252.20,504.89 253.89,507.71 255.58,510.34 257.28,512.79 258.97,515.06 260.67,517.15 262.36,519.09 264.06,520.87 265.75,522.50 267.44,524.00 269.14,525.37 270.83,526.63 272.53,527.77 274.22,528.81 275.92,529.76 277.61,530.62 279.31,531.40 281.00,532.11" fill="none" stroke="#5267d0" stroke-width="1.5" stroke-linejoin="round"/>
<polyline points="77.67,347.44 79.37,347.44 81.06,347.44 82.76,347.44 84.45,347.44 86.15,347.44 87.84,347.45 89.54,347.45 91.23,347.45 92.92,347.45 94.62,347.46 96.31,347.46 98.01,347.47 99.70,347.47 101.40,347.48 103.09,347.48 104.78,347.49 106.48,347.50 108.17,347.51 109.87,347.52 111.56,347.53 113.26,347.54 114.95,347.55 116.65,347.57 118.34,347.59 120.03,347.61 121.73,347.63 123.42,347.65 125.12,347.68 126.81,347.71 128.51,347.75 130.20,347.78 131.89,347.83 133.59,347.88 135.28,347.93 136.98,347.99 138.67,348.06 140.37,348.14 142.06,348.22 143.76,348.32 145.45,348.43 147.14,348.55 148.84,348.69 150.53,348.84 152.23,349.01 153.92,349.20 155.62,349.41 157.31,349.65 159.00,349.92 160.70,350.22 162.39,350.55 164.09,350.92 165.78,351.34 167.48,351.80 169.17,352.32 170.87,352.90 172.56,353.54 174.25,354.26 175.95,355.05 177.64,355.93 179.34,356.91 181.03,358.00 182.73,359.20 184.42,360.53 186.11,361.99 187.81,363.60 189.50,365.37 191.20,367.31 192.89,369.43 194.59,371.74 196.28,374.26 197.98,376.98 199.67,379.93 201.36,383.09 203.06,386.48 204.75,390.10 206.45,393.95 208.14,398.01 209.84,402.28 211.53,406.74 213.22,411.38 214.92,416.17 216.61,421.10 218.31,426.13 220.00,431.22 221.70,436.36 223.39,441.50 225.09,446.62 226.78,451.67 228.47,456.62 230.17,461.46 231.86,466.15 233.56,470.66 235.25,474.99 236.95,479.11 238.64,483.02 240.33,486.70 242.03,490.16 243.72,493.39 245.42,496.40 247.11,499.19 248.81,501.76 250.50,504.13 252.20,506.31 253.89,508.30 255.58,510.12 257.28,511.77 258.97,513.28 260.67,514.64 262.36,515.88 264.06,517.00 265.75,518.00 267.44,518.92 269.14,519.73 270.83,520.47 272.53,521.14 274.22,521.73 275.92,522.26 277.61,522.74 279.31,523.17 281.00,523.56" fill="none" stroke="#1a1a1a" stroke-width="1.5" stroke-linejoin="round"/>
<polyline points="77.67,347.10 79.37,347.10 81.06,347.10 82.76,347.10 84.45,347.10 86.15,347.10 87.84,347.10 89.54,347.10 91.23,347.10 92.92,347.10 94.62,347.10 96.31,347.10 98.01,347.10 99.70,347.10 101.40,347.10 103.09,347.10 104.78,347.10 106.48,347.10 108.17,347.10 109.87,347.10 111.56,347.10 113.26,347.10 114.95,347.10 116.65,347.10 118.34,347.10 120.03,347.10 121.73,347.10 123.42,347.10 125.12,347.10 126.81,347.10 128.51,347.10 130.20,347.10 131.89,347.10 133.59,347.10 135.28,347.10 136.98,347.10 138.67,347.10 140.37,347.10 142.06,347.10 143.76,347.10 145.45,347.10 147.14,347.10 148.84,347.10 150.53,347.10 152.23,347.10 153.92,347.10 155.62,347.10 157.31,347.10 159.00,347.10 160.70,347.10 162.39,347.10 164.09,347.10 165.78,347.10 167.48,347.10 169.17,347.10 170.87,347.10 172.56,347.10 174.25,347.11 175.95,347.11 177.64,347.11 179.34,347.12 181.03,347.13 182.73,347.14 184.42,347.15 186.11,347.17 187.81,347.19 189.50,347.22 191.20,347.26 192.89,347.30 194.59,347.37 196.28,347.45 197.98,347.56 199.67,347.71 201.36,347.90 203.06,348.14 204.75,348.46 206.45,348.88 208.14,349.42 209.84,350.12 211.53,351.04 213.22,352.22 214.92,353.74 216.61,355.69 218.31,358.18 220.00,361.33 221.70,365.29 223.39,370.19 225.09,376.17 226.78,383.36 228.47,391.81 230.17,401.50 231.86,412.29 233.56,423.95 235.25,436.12 236.95,448.38 238.64,460.30 240.33,471.48 242.03,481.64 243.72,490.60 245.42,498.30 247.11,504.77 248.81,510.09 250.50,514.41 252.20,517.87 253.89,520.62 255.58,522.77 257.28,524.46 258.97,525.77 260.67,526.78 262.36,527.57 264.06,528.17 265.75,528.63 267.44,528.99 269.14,529.26 270.83,529.47 272.53,529.63 274.22,529.76 275.92,529.85 277.61,529.92 279.31,529.98 281.00,530.02" fill="none" stroke="#6d5ed0" stroke-width="1.5" stroke-linejoin="round"/>
<polyline points="77.67,358.12 79.37,358.12 81.06,358.12 82.76,358.12 84.45,358.12 86.15,358.12 87.84,358.12 89.54,358.12 91.23,358.12 92.92,358.13 94.62,358.13 96.31,358.13 98.01,358.13 99.70,358.13 101.40,358.13 103.09,358.14 104.78,358.14 106.48,358.14 108.17,358.14 109.87,358.15 111.56,358.15 113.26,358.15 114.95,358.16 116.65,358.16 118.34,358.16 120.03,358.17 121.73,358.18 123.42,358.18 125.12,358.19 126.81,358.20 128.51,358.20 130.20,358.21 131.89,358.22 133.59,358.23 135.28,358.25 136.98,358.26 138.67,358.27 140.37,358.29 142.06,358.31 143.76,358.33 145.45,358.35 147.14,358.37 148.84,358.40 150.53,358.42 152.23,358.45 153.92,358.49 155.62,358.53 157.31,358.57 159.00,358.61 160.70,358.66 162.39,358.71 164.09,358.77 165.78,358.84 167.48,358.91 169.17,358.99 170.87,359.07 172.56,359.17 174.25,359.27 175.95,359.39 177.64,359.51 179.34,359.65 181.03,359.80 182.73,359.97 184.42,360.15 186.11,360.35 187.81,360.57 189.50,360.81 191.20,361.07 192.89,361.36 194.59,361.68 196.28,362.02 197.98,362.40 199.67,362.82 201.36,363.27 203.06,363.77 204.75,364.32 206.45,364.92 208.14,365.57 209.84,366.28 211.53,367.06 213.22,367.91 214.92,368.84 216.61,369.85 218.31,370.96 220.00,372.16 221.70,373.46 223.39,374.88 225.09,376.42 226.78,378.09 228.47,379.89 230.17,381.85 231.86,383.96 233.56,386.23 235.25,388.68 236.95,391.31 238.64,394.12 240.33,397.14 242.03,400.36 243.72,403.79 245.42,407.43 247.11,411.29 248.81,415.37 250.50,419.67 252.20,424.18 253.89,428.90 255.58,433.83 257.28,438.94 258.97,444.24 260.67,449.70 262.36,455.31 264.06,461.04 265.75,466.88 267.44,472.81 269.14,478.79 270.83,484.80 272.53,490.81 274.22,496.80 275.92,502.75 277.61,508.62 279.31,514.39 281.00,520.04" fill="none" stroke="#e0773a" stroke-width="1.5" stroke-linejoin="round"/>
<path d="M77.67,354.09V357.80M75.17,354.09H80.17M75.17,357.80H80.17" stroke="#e0773a" stroke-width="1.2" fill="none"/>
<circle cx="77.67" cy="355.94" r="1.70" fill="none" stroke="#e0773a" stroke-width="1.4"/>
<path d="M106.72,349.63V375.63M104.22,349.63H109.22M104.22,375.63H109.22" stroke="#e0773a" stroke-width="1.2" fill="none"/>
<circle cx="106.72" cy="362.63" r="1.70" fill="none" stroke="#e0773a" stroke-width="1.4"/>
<path d="M135.77,356.87V377.30M133.27,356.87H138.27M133.27,377.30H138.27" stroke="#e0773a" stroke-width="1.2" fill="none"/>
<circle cx="135.77" cy="367.08" r="1.70" fill="none" stroke="#e0773a" stroke-width="1.4"/>
<path d="M164.81,357.80V361.51M162.31,357.80H167.31M162.31,361.51H167.31" stroke="#e0773a" stroke-width="1.2" fill="none"/>
<circle cx="164.81" cy="359.66" r="1.70" fill="none" stroke="#e0773a" stroke-width="1.4"/>
<path d="M193.86,360.96V368.38M191.36,360.96H196.36M191.36,368.38H196.36" stroke="#e0773a" stroke-width="1.2" fill="none"/>
<circle cx="193.86" cy="364.67" r="1.70" fill="none" stroke="#e0773a" stroke-width="1.4"/>
<path d="M222.91,370.98V382.13M220.41,370.98H225.41M220.41,382.13H225.41" stroke="#e0773a" stroke-width="1.2" fill="none"/>
<circle cx="222.91" cy="376.55" r="1.70" fill="none" stroke="#e0773a" stroke-width="1.4"/>
<path d="M251.95,419.64V440.06M249.45,419.64H254.45M249.45,440.06H254.45" stroke="#e0773a" stroke-width="1.2" fill="none"/>
<circle cx="251.95" cy="429.85" r="1.70" fill="none" stroke="#e0773a" stroke-width="1.4"/>
<path d="M281.00,517.87V521.59M278.50,517.87H283.50M278.50,521.59H283.50" stroke="#e0773a" stroke-width="1.2" fill="none"/>
<circle cx="281.00" cy="519.73" r="1.70" fill="none" stroke="#e0773a" stroke-width="1.4"/>
<path d="M77.67,344.80V348.51M75.17,344.80H80.17M75.17,348.51H80.17" stroke="#6d5ed0" stroke-width="1.2" fill="none"/>
<polygon points="77.67,343.91 80.42,346.66 77.67,349.41 74.92,346.66" fill="none" stroke="#6d5ed0" stroke-width="1.4"/>
<path d="M106.72,343.69V347.40M104.22,343.69H109.22M104.22,347.40H109.22" stroke="#6d5ed0" stroke-width="1.2" fill="none"/>
<polygon points="106.72,342.79 109.47,345.54 106.72,348.29 103.97,345.54" fill="none" stroke="#6d5ed0" stroke-width="1.4"/>
<path d="M135.77,344.80V348.51M133.27,344.80H138.27M133.27,348.51H138.27" stroke="#6d5ed0" stroke-width="1.2" fill="none"/>
<polygon points="135.77,343.91 138.52,346.66 135.77,349.41 133.02,346.66" fill="none" stroke="#6d5ed0" stroke-width="1.4"/>
<path d="M164.81,345.17V348.89M162.31,345.17H167.31M162.31,348.89H167.31" stroke="#6d5ed0" stroke-width="1.2" fill="none"/>
<polygon points="164.81,344.28 167.56,347.03 164.81,349.78 162.06,347.03" fill="none" stroke="#6d5ed0" stroke-width="1.4"/>
<path d="M193.86,347.40V351.11M191.36,347.40H196.36M191.36,351.11H196.36" stroke="#6d5ed0" stroke-width="1.2" fill="none"/>
<polygon points="193.86,346.51 196.61,349.26 193.86,352.01 191.11,349.26" fill="none" stroke="#6d5ed0" stroke-width="1.4"/>
<path d="M222.91,363.93V367.64M220.41,363.93H225.41M220.41,367.64H225.41" stroke="#6d5ed0" stroke-width="1.2" fill="none"/>
<polygon points="222.91,363.03 225.66,365.78 222.91,368.53 220.16,365.78" fill="none" stroke="#6d5ed0" stroke-width="1.4"/>
<path d="M251.95,512.67V516.39M249.45,512.67H254.45M249.45,516.39H254.45" stroke="#6d5ed0" stroke-width="1.2" fill="none"/>
<polygon points="251.95,511.78 254.70,514.53 251.95,517.28 249.20,514.53" fill="none" stroke="#6d5ed0" stroke-width="1.4"/>
<path d="M281.00,530.31V534.03M278.50,530.31H283.50M278.50,534.03H283.50" stroke="#6d5ed0" stroke-width="1.2" fill="none"/>
<polygon points="281.00,529.42 283.75,532.17 281.00,534.92 278.25,532.17" fill="none" stroke="#6d5ed0" stroke-width="1.4"/>
<path d="M77.67,342.94V346.66M75.17,342.94H80.17M75.17,346.66H80.17" stroke="#1a1a1a" stroke-width="1.2" fill="none"/>
<circle cx="77.67" cy="344.80" r="1.70" fill="none" stroke="#1a1a1a" stroke-width="1.4"/>
<path d="M106.72,339.97V343.69M104.22,339.97H109.22M104.22,343.69H109.22" stroke="#1a1a1a" stroke-width="1.2" fill="none"/>
<circle cx="106.72" cy="341.83" r="1.70" fill="none" stroke="#1a1a1a" stroke-width="1.4"/>
<path d="M135.77,344.43V353.71M133.27,344.43H138.27M133.27,353.71H138.27" stroke="#1a1a1a" stroke-width="1.2" fill="none"/>
<circle cx="135.77" cy="349.07" r="1.70" fill="none" stroke="#1a1a1a" stroke-width="1.4"/>
<path d="M164.81,351.86V360.40M162.31,351.86H167.31M162.31,360.40H167.31" stroke="#1a1a1a" stroke-width="1.2" fill="none"/>
<circle cx="164.81" cy="356.13" r="1.70" fill="none" stroke="#1a1a1a" stroke-width="1.4"/>
<path d="M193.86,368.94V379.34M191.36,368.94H196.36M191.36,379.34H196.36" stroke="#1a1a1a" stroke-width="1.2" fill="none"/>
<circle cx="193.86" cy="374.14" r="1.70" fill="none" stroke="#1a1a1a" stroke-width="1.4"/>
<path d="M222.91,429.66V440.81M220.41,429.66H225.41M220.41,440.81H225.41" stroke="#1a1a1a" stroke-width="1.2" fill="none"/>
<circle cx="222.91" cy="435.24" r="1.70" fill="none" stroke="#1a1a1a" stroke-width="1.4"/>
<path d="M251.95,505.99V517.13M249.45,505.99H254.45M249.45,517.13H254.45" stroke="#1a1a1a" stroke-width="1.2" fill="none"/>
<circle cx="251.95" cy="511.56" r="1.70" fill="none" stroke="#1a1a1a" stroke-width="1.4"/>
<path d="M281.00,514.72V518.43M278.50,514.72H283.50M278.50,518.43H283.50" stroke="#1a1a1a" stroke-width="1.2" fill="none"/>
<circle cx="281.00" cy="516.57" r="1.70" fill="none" stroke="#1a1a1a" stroke-width="1.4"/>
<path d="M77.67,350.37V357.80M75.17,350.37H80.17M75.17,357.80H80.17" stroke="#5267d0" stroke-width="1.2" fill="none"/>
<path d="M75.17,354.09H80.17M77.67,351.59V356.59" stroke="#5267d0" stroke-width="1.5" fill="none"/>
<path d="M106.72,352.23V355.94M104.22,352.23H109.22M104.22,355.94H109.22" stroke="#5267d0" stroke-width="1.2" fill="none"/>
<path d="M104.22,354.09H109.22M106.72,351.59V356.59" stroke="#5267d0" stroke-width="1.5" fill="none"/>
<path d="M135.77,352.23V355.94M133.27,352.23H138.27M133.27,355.94H138.27" stroke="#5267d0" stroke-width="1.2" fill="none"/>
<path d="M133.27,354.09H138.27M135.77,351.59V356.59" stroke="#5267d0" stroke-width="1.5" fill="none"/>
<path d="M164.81,355.94V359.66M162.31,355.94H167.31M162.31,359.66H167.31" stroke="#5267d0" stroke-width="1.2" fill="none"/>
<path d="M162.31,357.80H167.31M164.81,355.30V360.30" stroke="#5267d0" stroke-width="1.5" fill="none"/>
<path d="M193.86,367.08V378.23M191.36,367.08H196.36M191.36,378.23H196.36" stroke="#5267d0" stroke-width="1.2" fill="none"/>
<path d="M191.36,372.65H196.36M193.86,370.15V375.15" stroke="#5267d0" stroke-width="1.5" fill="none"/>
<path d="M222.91,417.22V443.22M220.41,417.22H225.41M220.41,443.22H225.41" stroke="#5267d0" stroke-width="1.2" fill="none"/>
<path d="M220.41,430.22H225.41M222.91,427.72V432.72" stroke="#5267d0" stroke-width="1.5" fill="none"/>
<path d="M251.95,498.37V510.26M249.45,498.37H254.45M249.45,510.26H254.45" stroke="#5267d0" stroke-width="1.2" fill="none"/>
<path d="M249.45,504.32H254.45M251.95,501.82V506.82" stroke="#5267d0" stroke-width="1.5" fill="none"/>
<path d="M281.00,530.31V534.03M278.50,530.31H283.50M278.50,534.03H283.50" stroke="#5267d0" stroke-width="1.2" fill="none"/>
<path d="M278.50,532.17H283.50M281.00,529.67V534.67" stroke="#5267d0" stroke-width="1.5" fill="none"/>
<path d="M77.67,346.66V354.09M75.17,346.66H80.17M75.17,354.09H80.17" stroke="#3cc3e0" stroke-width="1.2" fill="none"/>
<polygon points="77.67,348.21 79.67,351.69 75.67,351.69" fill="none" stroke="#3cc3e0" stroke-width="1.4" stroke-linejoin="round"/>
<path d="M106.72,352.23V355.94M104.22,352.23H109.22M104.22,355.94H109.22" stroke="#3cc3e0" stroke-width="1.2" fill="none"/>
<polygon points="106.72,351.93 108.72,355.41 104.72,355.41" fill="none" stroke="#3cc3e0" stroke-width="1.4" stroke-linejoin="round"/>
<path d="M135.77,355.94V367.08M133.27,355.94H138.27M133.27,367.08H138.27" stroke="#3cc3e0" stroke-width="1.2" fill="none"/>
<polygon points="135.77,359.36 137.77,362.84 133.77,362.84" fill="none" stroke="#3cc3e0" stroke-width="1.4" stroke-linejoin="round"/>
<path d="M164.81,369.68V380.83M162.31,369.68H167.31M162.31,380.83H167.31" stroke="#3cc3e0" stroke-width="1.2" fill="none"/>
<polygon points="164.81,373.10 166.81,376.58 162.81,376.58" fill="none" stroke="#3cc3e0" stroke-width="1.4" stroke-linejoin="round"/>
<path d="M193.86,415.37V432.08M191.36,415.37H196.36M191.36,432.08H196.36" stroke="#3cc3e0" stroke-width="1.2" fill="none"/>
<polygon points="193.86,421.56 195.86,425.04 191.86,425.04" fill="none" stroke="#3cc3e0" stroke-width="1.4" stroke-linejoin="round"/>
<path d="M222.91,506.73V514.16M220.41,506.73H225.41M220.41,514.16H225.41" stroke="#3cc3e0" stroke-width="1.2" fill="none"/>
<polygon points="222.91,508.29 224.91,511.77 220.91,511.77" fill="none" stroke="#3cc3e0" stroke-width="1.4" stroke-linejoin="round"/>
<path d="M251.95,530.31V534.03M249.45,530.31H254.45M249.45,534.03H254.45" stroke="#3cc3e0" stroke-width="1.2" fill="none"/>
<polygon points="251.95,530.01 253.95,533.49 249.95,533.49" fill="none" stroke="#3cc3e0" stroke-width="1.4" stroke-linejoin="round"/>
<path d="M77.67,339.97V343.69M75.17,339.97H80.17M75.17,343.69H80.17" stroke="#20b9ae" stroke-width="1.2" fill="none"/>
<rect x="75.77" y="339.93" width="3.8" height="3.8" fill="none" stroke="#20b9ae" stroke-width="1.4"/>
<path d="M106.72,350.93V354.64M104.22,350.93H109.22M104.22,354.64H109.22" stroke="#20b9ae" stroke-width="1.2" fill="none"/>
<rect x="104.82" y="350.89" width="3.8" height="3.8" fill="none" stroke="#20b9ae" stroke-width="1.4"/>
<path d="M135.77,391.41V396.98M133.27,391.41H138.27M133.27,396.98H138.27" stroke="#20b9ae" stroke-width="1.2" fill="none"/>
<rect x="133.87" y="392.30" width="3.8" height="3.8" fill="none" stroke="#20b9ae" stroke-width="1.4"/>
<path d="M164.81,469.03V475.72M162.31,469.03H167.31M162.31,475.72H167.31" stroke="#20b9ae" stroke-width="1.2" fill="none"/>
<rect x="162.91" y="470.48" width="3.8" height="3.8" fill="none" stroke="#20b9ae" stroke-width="1.4"/>
<path d="M193.86,498.00V505.43M191.36,498.00H196.36M191.36,505.43H196.36" stroke="#20b9ae" stroke-width="1.2" fill="none"/>
<rect x="191.96" y="499.82" width="3.8" height="3.8" fill="none" stroke="#20b9ae" stroke-width="1.4"/>
<path d="M222.91,511.74V521.03M220.41,511.74H225.41M220.41,521.03H225.41" stroke="#20b9ae" stroke-width="1.2" fill="none"/>
<rect x="221.01" y="514.49" width="3.8" height="3.8" fill="none" stroke="#20b9ae" stroke-width="1.4"/>
<path d="M251.95,521.22V528.64M249.45,521.22H254.45M249.45,528.64H254.45" stroke="#20b9ae" stroke-width="1.2" fill="none"/>
<rect x="250.05" y="523.03" width="3.8" height="3.8" fill="none" stroke="#20b9ae" stroke-width="1.4"/>
<path d="M281.00,508.96V518.24M278.50,508.96H283.50M278.50,518.24H283.50" stroke="#20b9ae" stroke-width="1.2" fill="none"/>
<rect x="279.10" y="511.70" width="3.8" height="3.8" fill="none" stroke="#20b9ae" stroke-width="1.4"/>
<rect x="292.90" y="331.50" width="4.2" height="4.2" fill="none" stroke="#20b9ae" stroke-width="1.2"/>
<text x="303.59" y="339.11" font-size="16" fill="#1a1a1a" letter-spacing="0.532">C347F</text>
<polygon points="295.00,353.01 297.40,357.19 292.60,357.19" fill="none" stroke="#3cc3e0" stroke-width="1.2" stroke-linejoin="round"/>
<text x="303.52" y="360.36" font-size="16" fill="#1a1a1a">I328W</text>
<path d="M290.50,376.60H299.10M294.80,372.30V380.90" stroke="#5267d0" stroke-width="1.3" fill="none"/>
<text x="303.52" y="381.86" font-size="16" fill="#1a1a1a" letter-spacing="0.196">I328N</text>
<circle cx="294.90" cy="398.60" r="2.00" fill="none" stroke="#1a1a1a" stroke-width="1.2"/>
<text x="303.93" y="403.35" font-size="16" fill="#1a1a1a" letter-spacing="-0.438">WT</text>
<polygon points="295.20,415.80 298.00,418.60 295.20,421.40 292.40,418.60" fill="none" stroke="#6d5ed0" stroke-width="1.2"/>
<text x="304.13" y="424.71" font-size="16" fill="#1a1a1a" letter-spacing="-0.136">V332W</text>
<circle cx="294.90" cy="440.40" r="2.00" fill="none" stroke="#e0773a" stroke-width="1.2"/>
<text x="304.34" y="445.96" font-size="16" fill="#1a1a1a" letter-spacing="-0.388">T355A</text>
<path d="M397.5,316V531.5" stroke="#1e1e1e" stroke-width="1.3" fill="none"/>
<path d="M392.6,531.5H676.8" stroke="#1e1e1e" stroke-width="1.3" fill="none"/>
<path d="M392.0,351.70H397.5" stroke="#1e1e1e" stroke-width="1.3"/>
<text x="363.43" y="357.61" font-size="16" fill="#1a1a1a">100</text>
<path d="M392.0,441.60H397.5" stroke="#1e1e1e" stroke-width="1.3"/>
<text x="372.33" y="447.51" font-size="16" fill="#1a1a1a">50</text>
<path d="M392.0,531.50H397.5" stroke="#1e1e1e" stroke-width="1.3"/>
<text x="381.23" y="537.41" font-size="16" fill="#1a1a1a">0</text>
<path d="M432.40,531.5V537.0" stroke="#1e1e1e" stroke-width="1.3"/>
<text x="425.55" y="552.9" font-size="16" text-anchor="middle" font-weight="normal" fill="#1a1a1a" >−14</text>
<path d="M502.10,531.5V537.0" stroke="#1e1e1e" stroke-width="1.3"/>
<text x="496.35" y="552.9" font-size="16" text-anchor="middle" font-weight="normal" fill="#1a1a1a" >−12</text>
<path d="M571.80,531.5V537.0" stroke="#1e1e1e" stroke-width="1.3"/>
<text x="568.15" y="552.9" font-size="16" text-anchor="middle" font-weight="normal" fill="#1a1a1a" >−10</text>
<path d="M641.50,531.5V537.0" stroke="#1e1e1e" stroke-width="1.3"/>
<text x="640.60" y="552.9" font-size="16" text-anchor="middle" font-weight="normal" fill="#1a1a1a" >−8</text>
<polyline points="421.25,530.03 423.08,530.03 424.92,530.03 426.75,530.03 428.59,530.02 430.43,530.02 432.26,530.02 434.10,530.02 435.93,530.02 437.77,530.02 439.60,530.02 441.44,530.02 443.27,530.02 445.11,530.02 446.94,530.01 448.78,530.01 450.61,530.01 452.45,530.01 454.29,530.01 456.12,530.00 457.96,530.00 459.79,530.00 461.63,530.00 463.46,529.99 465.30,529.99 467.13,529.99 468.97,529.98 470.80,529.98 472.64,529.97 474.48,529.97 476.31,529.96 478.15,529.96 479.98,529.95 481.82,529.94 483.65,529.94 485.49,529.93 487.32,529.92 489.16,529.91 490.99,529.90 492.83,529.89 494.67,529.88 496.50,529.87 498.34,529.85 500.17,529.84 502.01,529.82 503.84,529.80 505.68,529.79 507.51,529.77 509.35,529.74 511.18,529.72 513.02,529.70 514.86,529.67 516.69,529.64 518.53,529.61 520.36,529.57 522.20,529.54 524.03,529.50 525.87,529.46 527.70,529.41 529.54,529.36 531.37,529.31 533.21,529.25 535.04,529.19 536.88,529.12 538.72,529.05 540.55,528.98 542.39,528.89 544.22,528.81 546.06,528.71 547.89,528.61 549.73,528.50 551.56,528.38 553.40,528.26 555.23,528.12 557.07,527.98 558.91,527.82 560.74,527.66 562.58,527.48 564.41,527.30 566.25,527.10 568.08,526.89 569.92,526.66 571.75,526.42 573.59,526.17 575.42,525.90 577.26,525.61 579.10,525.31 580.93,524.99 582.77,524.66 584.60,524.30 586.44,523.93 588.27,523.55 590.11,523.14 591.94,522.72 593.78,522.28 595.61,521.82 597.45,521.35 599.29,520.86 601.12,520.36 602.96,519.84 604.79,519.31 606.63,518.76 608.46,518.21 610.30,517.64 612.13,517.07 613.97,516.49 615.80,515.90 617.64,515.32 619.47,514.73 621.31,514.14 623.15,513.55 624.98,512.97 626.82,512.39 628.65,511.82 630.49,511.26 632.32,510.71 634.16,510.17 635.99,509.64 637.83,509.13 639.66,508.63 641.50,508.15" fill="none" stroke="#1a2488" stroke-width="2.4" stroke-linejoin="round"/>
<polyline points="421.25,525.94 423.08,525.94 424.92,525.94 426.75,525.94 428.59,525.93 430.43,525.93 432.26,525.93 434.10,525.93 435.93,525.93 437.77,525.93 439.60,525.92 441.44,525.92 443.27,525.92 445.11,525.92 446.94,525.91 448.78,525.91 450.61,525.91 452.45,525.90 454.29,525.90 456.12,525.90 457.96,525.89 459.79,525.89 461.63,525.88 463.46,525.88 465.30,525.87 467.13,525.87 468.97,525.86 470.80,525.85 472.64,525.85 474.48,525.84 476.31,525.83 478.15,525.82 479.98,525.81 481.82,525.80 483.65,525.79 485.49,525.78 487.32,525.77 489.16,525.76 490.99,525.74 492.83,525.73 494.67,525.71 496.50,525.70 498.34,525.68 500.17,525.66 502.01,525.64 503.84,525.62 505.68,525.59 507.51,525.57 509.35,525.54 511.18,525.51 513.02,525.48 514.86,525.45 516.69,525.41 518.53,525.37 520.36,525.33 522.20,525.29 524.03,525.25 525.87,525.20 527.70,525.15 529.54,525.09 531.37,525.03 533.21,524.97 535.04,524.91 536.88,524.84 538.72,524.76 540.55,524.68 542.39,524.60 544.22,524.51 546.06,524.42 547.89,524.32 549.73,524.21 551.56,524.10 553.40,523.98 555.23,523.86 557.07,523.72 558.91,523.59 560.74,523.44 562.58,523.29 564.41,523.12 566.25,522.95 568.08,522.78 569.92,522.59 571.75,522.40 573.59,522.19 575.42,521.98 577.26,521.76 579.10,521.53 580.93,521.30 582.77,521.05 584.60,520.80 586.44,520.53 588.27,520.26 590.11,519.98 591.94,519.70 593.78,519.41 595.61,519.11 597.45,518.80 599.29,518.49 601.12,518.18 602.96,517.86 604.79,517.53 606.63,517.21 608.46,516.88 610.30,516.55 612.13,516.22 613.97,515.89 615.80,515.57 617.64,515.24 619.47,514.92 621.31,514.60 623.15,514.28 624.98,513.97 626.82,513.66 628.65,513.36 630.49,513.07 632.32,512.78 634.16,512.50 635.99,512.23 637.83,511.96 639.66,511.70 641.50,511.46" fill="none" stroke="#e25050" stroke-width="1.4" stroke-linejoin="round"/>
<path d="M421.25,516.58V525.93M418.75,516.58H423.75M418.75,525.93H423.75" stroke="#111" stroke-width="1.2" fill="none"/>
<circle cx="421.25" cy="521.25" r="3.70" fill="#111"/>
<path d="M452.61,530.06V531.86M450.11,530.06H455.11M450.11,531.86H455.11" stroke="#111" stroke-width="1.2" fill="none"/>
<circle cx="452.61" cy="530.96" r="3.70" fill="#111"/>
<path d="M515.69,530.24V532.04M513.19,530.24H518.19M513.19,532.04H518.19" stroke="#111" stroke-width="1.2" fill="none"/>
<circle cx="515.69" cy="531.14" r="3.70" fill="#111"/>
<path d="M547.06,443.04V470.01M544.56,443.04H549.56M544.56,470.01H549.56" stroke="#111" stroke-width="1.2" fill="none"/>
<circle cx="547.06" cy="456.52" r="3.70" fill="#111"/>
<path d="M578.42,357.45V361.05M575.92,357.45H580.92M575.92,361.05H580.92" stroke="#111" stroke-width="1.2" fill="none"/>
<circle cx="578.42" cy="359.25" r="3.70" fill="#111"/>
<path d="M610.13,351.16V354.76M607.63,351.16H612.63M607.63,354.76H612.63" stroke="#111" stroke-width="1.2" fill="none"/>
<circle cx="610.13" cy="352.96" r="3.70" fill="#111"/>
<path d="M641.50,349.90V353.50M639.00,349.90H644.00M639.00,353.50H644.00" stroke="#111" stroke-width="1.2" fill="none"/>
<circle cx="641.50" cy="351.70" r="3.70" fill="#111"/>
<path d="M515.69,524.49V528.08M513.19,524.49H518.19M513.19,528.08H518.19" stroke="#d48a1e" stroke-width="1.2" fill="none"/>
<polygon points="515.69,522.89 519.09,526.29 515.69,529.69 512.29,526.29" fill="#d48a1e"/>
<path d="M547.06,430.99V443.58M544.56,430.99H549.56M544.56,443.58H549.56" stroke="#d48a1e" stroke-width="1.2" fill="none"/>
<polygon points="547.06,433.88 550.46,437.28 547.06,440.68 543.66,437.28" fill="#d48a1e"/>
<path d="M578.42,357.09V360.69M575.92,357.09H580.92M575.92,360.69H580.92" stroke="#d48a1e" stroke-width="1.2" fill="none"/>
<polygon points="578.42,355.49 581.82,358.89 578.42,362.29 575.02,358.89" fill="#d48a1e"/>
<path d="M610.13,351.16V354.76M607.63,351.16H612.63M607.63,354.76H612.63" stroke="#d48a1e" stroke-width="1.2" fill="none"/>
<polygon points="610.13,349.56 613.53,352.96 610.13,356.36 606.74,352.96" fill="#d48a1e"/>
<path d="M641.50,349.90V353.50M639.00,349.90H644.00M639.00,353.50H644.00" stroke="#d48a1e" stroke-width="1.2" fill="none"/>
<polygon points="641.50,348.30 644.90,351.70 641.50,355.10 638.10,351.70" fill="#d48a1e"/>
<path d="M421.25,525.03V528.62M418.75,525.03H423.75M418.75,528.62H423.75" stroke="#1a2488" stroke-width="1.2" fill="none"/>
<polygon points="421.25,523.17 424.75,529.26 417.75,529.26" fill="#1a2488"/>
<path d="M452.61,527.00V530.60M450.11,527.00H455.11M450.11,530.60H455.11" stroke="#1a2488" stroke-width="1.2" fill="none"/>
<polygon points="452.61,525.15 456.11,531.24 449.11,531.24" fill="#1a2488"/>
<path d="M547.06,528.80V532.40M544.56,528.80H549.56M544.56,532.40H549.56" stroke="#1a2488" stroke-width="1.2" fill="none"/>
<polygon points="547.06,526.95 550.56,533.04 543.56,533.04" fill="#1a2488"/>
<path d="M578.42,523.23V526.83M575.92,523.23H580.92M575.92,526.83H580.92" stroke="#1a2488" stroke-width="1.2" fill="none"/>
<polygon points="578.42,521.37 581.92,527.46 574.92,527.46" fill="#1a2488"/>
<path d="M610.13,516.04V519.63M607.63,516.04H612.63M607.63,519.63H612.63" stroke="#1a2488" stroke-width="1.2" fill="none"/>
<polygon points="610.13,514.18 613.63,520.27 606.63,520.27" fill="#1a2488"/>
<path d="M641.50,506.33V509.92M639.00,506.33H644.00M639.00,509.92H644.00" stroke="#1a2488" stroke-width="1.2" fill="none"/>
<polygon points="641.50,504.47 645.00,510.56 638.00,510.56" fill="#1a2488"/>
<path d="M421.25,510.10V513.70M418.75,510.10H423.75M418.75,513.70H423.75" stroke="#e0262e" stroke-width="1.2" fill="none"/>
<polygon points="421.25,516.18 425.35,509.05 417.15,509.05" fill="#e0262e"/>
<path d="M452.61,516.76V524.31M450.11,516.76H455.11M450.11,524.31H455.11" stroke="#e0262e" stroke-width="1.2" fill="none"/>
<polygon points="452.61,524.81 456.71,517.68 448.51,517.68" fill="#e0262e"/>
<path d="M547.06,524.49V528.08M544.56,524.49H549.56M544.56,528.08H549.56" stroke="#e0262e" stroke-width="1.2" fill="none"/>
<polygon points="547.06,530.57 551.16,523.43 542.96,523.43" fill="#e0262e"/>
<path d="M578.42,518.19V521.79M575.92,518.19H580.92M575.92,521.79H580.92" stroke="#e0262e" stroke-width="1.2" fill="none"/>
<polygon points="578.42,524.27 582.52,517.14 574.32,517.14" fill="#e0262e"/>
<path d="M610.13,515.14V518.73M607.63,515.14H612.63M607.63,518.73H612.63" stroke="#e0262e" stroke-width="1.2" fill="none"/>
<polygon points="610.13,521.22 614.24,514.08 606.03,514.08" fill="#e0262e"/>
<path d="M641.50,509.56V513.16M639.00,509.56H644.00M639.00,513.16H644.00" stroke="#e0262e" stroke-width="1.2" fill="none"/>
<polygon points="641.50,515.64 645.60,508.51 637.40,508.51" fill="#e0262e"/>
<polyline points="421.25,532.47 423.08,532.47 424.92,532.47 426.75,532.47 428.59,532.47 430.43,532.47 432.26,532.47 434.10,532.47 435.93,532.47 437.77,532.47 439.60,532.47 441.44,532.47 443.27,532.47 445.11,532.47 446.94,532.47 448.78,532.47 450.61,532.47 452.45,532.47 454.29,532.47 456.12,532.47 457.96,532.47 459.79,532.47 461.63,532.46 463.46,532.46 465.30,532.46 467.13,532.46 468.97,532.46 470.80,532.45 472.64,532.45 474.48,532.44 476.31,532.43 478.15,532.43 479.98,532.42 481.82,532.40 483.65,532.39 485.49,532.37 487.32,532.34 489.16,532.31 490.99,532.27 492.83,532.23 494.67,532.17 496.50,532.10 498.34,532.01 500.17,531.90 502.01,531.77 503.84,531.60 505.68,531.40 507.51,531.15 509.35,530.84 511.18,530.45 513.02,529.98 514.86,529.40 516.69,528.69 518.53,527.82 520.36,526.75 522.20,525.45 524.03,523.87 525.87,521.95 527.70,519.64 529.54,516.87 531.37,513.56 533.21,509.65 535.04,505.07 536.88,499.76 538.72,493.69 540.55,486.84 542.39,479.23 544.22,470.93 546.06,462.06 547.89,452.78 549.73,443.26 551.56,433.73 553.40,424.39 555.23,415.44 557.07,407.04 558.91,399.32 560.74,392.34 562.58,386.13 564.41,380.70 566.25,376.01 568.08,371.99 569.92,368.59 571.75,365.73 573.59,363.35 575.42,361.37 577.26,359.74 579.10,358.40 580.93,357.29 582.77,356.39 584.60,355.66 586.44,355.06 588.27,354.57 590.11,354.17 591.94,353.85 593.78,353.59 595.61,353.38 597.45,353.21 599.29,353.07 601.12,352.96 602.96,352.87 604.79,352.79 606.63,352.73 608.46,352.68 610.30,352.65 612.13,352.61 613.97,352.59 615.80,352.57 617.64,352.55 619.47,352.54 621.31,352.53 623.15,352.52 624.98,352.51 626.82,352.50 628.65,352.50 630.49,352.50 632.32,352.49 634.16,352.49 635.99,352.49 637.83,352.49 639.66,352.49 641.50,352.48" fill="none" stroke="#111" stroke-width="1.5" stroke-linejoin="round"/>
<polyline points="510.81,527.41 511.90,526.86 512.99,526.25 514.08,525.57 515.17,524.82 516.26,523.99 517.35,523.08 518.44,522.07 519.52,520.96 520.61,519.74 521.70,518.40 522.79,516.94 523.88,515.33 524.97,513.58 526.06,511.67 527.15,509.59 528.24,507.34 529.33,504.90 530.42,502.27 531.50,499.44 532.59,496.42 533.68,493.18 534.77,489.75 535.86,486.11 536.95,482.27 538.04,478.25 539.13,474.04 540.22,469.68 541.31,465.16 542.40,460.52 543.48,455.78 544.57,450.96 545.66,446.09 546.75,441.20 547.84,436.31 548.93,431.46 550.02,426.67 551.11,421.97 552.20,417.39 553.29,412.94 554.38,408.65 555.46,404.53 556.55,400.59 557.64,396.84 558.73,393.30 559.82,389.96 560.91,386.82 562.00,383.89 563.09,381.15 564.18,378.61 565.27,376.26 566.35,374.09 567.44,372.09 568.53,370.25 569.62,368.57 570.71,367.03 571.80,365.62 572.89,364.34 573.98,363.18 575.07,362.11 576.16,361.15 577.25,360.28 578.33,359.49 579.42,358.77 580.51,358.13 581.60,357.54 582.69,357.02 583.78,356.54 584.87,356.11 585.96,355.72 587.05,355.38 588.14,355.06 589.23,354.78 590.31,354.53 591.40,354.30 592.49,354.09 593.58,353.91 594.67,353.74 595.76,353.59 596.85,353.46 597.94,353.34 599.03,353.23 600.12,353.13 601.20,353.05 602.29,352.97 603.38,352.90 604.47,352.84 605.56,352.78 606.65,352.73 607.74,352.68 608.83,352.64 609.92,352.61 611.01,352.57 612.10,352.54 613.18,352.52 614.27,352.49 615.36,352.47 616.45,352.45 617.54,352.44 618.63,352.42 619.72,352.41 620.81,352.39 621.90,352.38 622.99,352.37 624.08,352.36 625.16,352.36 626.25,352.35 627.34,352.34 628.43,352.34 629.52,352.33 630.61,352.33 631.70,352.32 632.79,352.32 633.88,352.32 634.97,352.31 636.05,352.31 637.14,352.31 638.23,352.31 639.32,352.30 640.41,352.30 641.50,352.30" fill="none" stroke="#d48a1e" stroke-width="1.5" stroke-linejoin="round"/>
<circle cx="417.00" cy="322.40" r="5.20" fill="#111"/>
<text x="428.83" y="328.65" font-size="16" fill="#1a1a1a" letter-spacing="-0.438">WT</text>
<polygon points="418.90,339.60 424.30,345.00 418.90,350.40 413.50,345.00" fill="#d48a1e"/>
<text x="427.59" y="351.16" font-size="16" fill="#1a1a1a" letter-spacing="0.182">C347F</text>
<polygon points="418.30,362.56 423.70,371.96 412.90,371.96" fill="#1a2488"/>
<text x="429.12" y="374.52" font-size="16" fill="#1a1a1a" letter-spacing="0.375">I317C/G361C</text>
<polygon points="419.60,396.92 424.70,388.05 414.50,388.05" fill="#e0262e"/>
<text x="430.79" y="395.14" font-size="16" fill="#1a1a1a" letter-spacing="0.178">Crystallized</text>
<text x="2.2" y="15.2" font-size="21" text-anchor="start" font-weight="bold" fill="#1a1a1a"  stroke="#1a1a1a" stroke-width="1.1" stroke-linejoin="round">a</text>
<text x="369.6" y="15.2" font-size="21" text-anchor="start" font-weight="bold" fill="#1a1a1a"  stroke="#1a1a1a" stroke-width="1.1" stroke-linejoin="round">b</text>
<text x="2.0" y="313.0" font-size="21" text-anchor="start" font-weight="bold" fill="#1a1a1a"  stroke="#1a1a1a" stroke-width="1.1" stroke-linejoin="round">c</text>
<text x="368.6" y="312.4" font-size="21" text-anchor="start" font-weight="bold" fill="#1a1a1a"  stroke="#1a1a1a" stroke-width="1.1" stroke-linejoin="round">d</text>
<text x="119.92" y="287.60" font-size="16" fill="#1a1a1a" letter-spacing="0.147">log[PF-06372222 (M)]</text>
<text x="469.12" y="287.60" font-size="16" fill="#1a1a1a" letter-spacing="0.119">log[NNC0640 (M)]</text>
<text x="135.72" y="579.10" font-size="16" fill="#1a1a1a" letter-spacing="0.188">log[MK-0893 (M)]</text>
<text x="481.32" y="578.90" font-size="16" fill="#1a1a1a" letter-spacing="0.085">log[GLP-1 (M)]</text>
<text transform="translate(14.1,203.6) rotate(-90)" x="-0.68" y="0" font-size="16" fill="#1a1a1a" letter-spacing="0.364">cAMP accumulation</text>
<text transform="translate(33.6,160.1) rotate(-90)" x="-0.99" y="0" font-size="16" fill="#1a1a1a" letter-spacing="0.155">(% max)</text>
<text transform="translate(14.1,493.4) rotate(-90)" x="-0.68" y="0" font-size="16" fill="#1a1a1a" letter-spacing="0.258">cAMP accumulation</text>
<text transform="translate(33.6,451.0) rotate(-90)" x="-0.99" y="0" font-size="16" fill="#1a1a1a">(% max)</text>
</svg></body></html>
